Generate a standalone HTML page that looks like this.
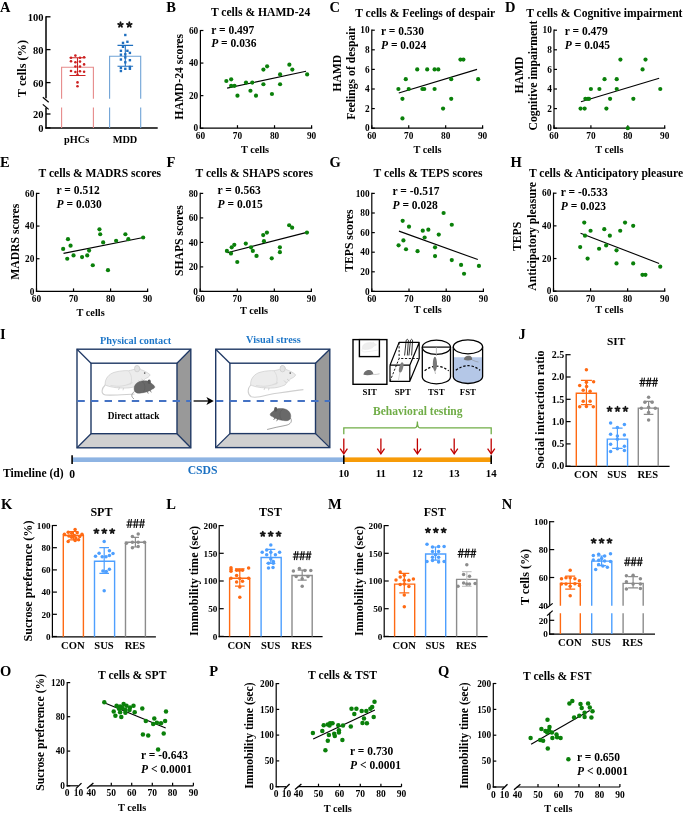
<!DOCTYPE html>
<html><head><meta charset="utf-8"><style>
html,body{margin:0;padding:0;background:#fff;width:685px;height:820px;overflow:hidden}
svg{display:block;font-family:"Liberation Serif", serif;will-change:transform}
</style></head><body>
<svg width="685" height="820" viewBox="0 0 685 820" font-family='"Liberation Serif", serif'>
<rect width="685" height="820" fill="#fff"/>
<text x="0.00" y="11.80" font-size="14.5" text-anchor="start" font-weight="bold" font-style="normal" fill="#000">A</text>
<text x="166.20" y="11.50" font-size="14.5" text-anchor="start" font-weight="bold" font-style="normal" fill="#000">B</text>
<text x="329.60" y="11.60" font-size="14.5" text-anchor="start" font-weight="bold" font-style="normal" fill="#000">C</text>
<text x="505.00" y="11.60" font-size="14.5" text-anchor="start" font-weight="bold" font-style="normal" fill="#000">D</text>
<text x="0.00" y="167.30" font-size="14.5" text-anchor="start" font-weight="bold" font-style="normal" fill="#000">E</text>
<text x="166.50" y="167.30" font-size="14.5" text-anchor="start" font-weight="bold" font-style="normal" fill="#000">F</text>
<text x="329.50" y="167.30" font-size="14.5" text-anchor="start" font-weight="bold" font-style="normal" fill="#000">G</text>
<text x="510.50" y="167.30" font-size="14.5" text-anchor="start" font-weight="bold" font-style="normal" fill="#000">H</text>
<text x="0.00" y="338.50" font-size="14.5" text-anchor="start" font-weight="bold" font-style="normal" fill="#000">I</text>
<text x="518.50" y="338.50" font-size="14.5" text-anchor="start" font-weight="bold" font-style="normal" fill="#000">J</text>
<text x="1.00" y="509.00" font-size="14.5" text-anchor="start" font-weight="bold" font-style="normal" fill="#000">K</text>
<text x="166.20" y="509.00" font-size="14.5" text-anchor="start" font-weight="bold" font-style="normal" fill="#000">L</text>
<text x="328.00" y="509.00" font-size="14.5" text-anchor="start" font-weight="bold" font-style="normal" fill="#000">M</text>
<text x="501.80" y="509.00" font-size="14.5" text-anchor="start" font-weight="bold" font-style="normal" fill="#000">N</text>
<text x="0.00" y="676.20" font-size="14.5" text-anchor="start" font-weight="bold" font-style="normal" fill="#000">O</text>
<text x="209.30" y="676.20" font-size="14.5" text-anchor="start" font-weight="bold" font-style="normal" fill="#000">P</text>
<text x="438.00" y="676.20" font-size="14.5" text-anchor="start" font-weight="bold" font-style="normal" fill="#000">Q</text>
<line x1="200.40" y1="29.90" x2="200.40" y2="128.80" stroke="#000" stroke-width="1.2"/>
<line x1="199.80" y1="128.20" x2="312.20" y2="128.20" stroke="#000" stroke-width="1.2"/>
<line x1="200.40" y1="128.20" x2="203.40" y2="128.20" stroke="#000" stroke-width="1.2"/>
<text x="198.20" y="131.40" font-size="9.3" text-anchor="end" font-weight="bold" font-style="normal" fill="#000">0</text>
<line x1="200.40" y1="95.63" x2="203.40" y2="95.63" stroke="#000" stroke-width="1.2"/>
<text x="198.20" y="98.83" font-size="9.3" text-anchor="end" font-weight="bold" font-style="normal" fill="#000">20</text>
<line x1="200.40" y1="63.07" x2="203.40" y2="63.07" stroke="#000" stroke-width="1.2"/>
<text x="198.20" y="66.27" font-size="9.3" text-anchor="end" font-weight="bold" font-style="normal" fill="#000">40</text>
<line x1="200.40" y1="30.50" x2="203.40" y2="30.50" stroke="#000" stroke-width="1.2"/>
<text x="198.20" y="33.70" font-size="9.3" text-anchor="end" font-weight="bold" font-style="normal" fill="#000">60</text>
<line x1="200.40" y1="128.20" x2="200.40" y2="125.20" stroke="#000" stroke-width="1.2"/>
<text x="200.40" y="138.80" font-size="9.3" text-anchor="middle" font-weight="bold" font-style="normal" fill="#000">60</text>
<line x1="237.47" y1="128.20" x2="237.47" y2="125.20" stroke="#000" stroke-width="1.2"/>
<text x="237.47" y="138.80" font-size="9.3" text-anchor="middle" font-weight="bold" font-style="normal" fill="#000">70</text>
<line x1="274.53" y1="128.20" x2="274.53" y2="125.20" stroke="#000" stroke-width="1.2"/>
<text x="274.53" y="138.80" font-size="9.3" text-anchor="middle" font-weight="bold" font-style="normal" fill="#000">80</text>
<line x1="311.60" y1="128.20" x2="311.60" y2="125.20" stroke="#000" stroke-width="1.2"/>
<text x="311.60" y="138.80" font-size="9.3" text-anchor="middle" font-weight="bold" font-style="normal" fill="#000">90</text>
<line x1="227.09" y1="88.14" x2="306.04" y2="71.21" stroke="#000" stroke-width="1.1"/>
<circle cx="226.35" cy="80.98" r="2.1" fill="#0a800a"/>
<circle cx="231.17" cy="79.35" r="2.1" fill="#0a800a"/>
<circle cx="231.17" cy="85.86" r="2.1" fill="#0a800a"/>
<circle cx="234.50" cy="85.86" r="2.1" fill="#0a800a"/>
<circle cx="237.47" cy="95.63" r="2.1" fill="#0a800a"/>
<circle cx="245.99" cy="82.61" r="2.1" fill="#0a800a"/>
<circle cx="250.44" cy="90.75" r="2.1" fill="#0a800a"/>
<circle cx="252.29" cy="82.61" r="2.1" fill="#0a800a"/>
<circle cx="256.00" cy="95.63" r="2.1" fill="#0a800a"/>
<circle cx="263.41" cy="69.58" r="2.1" fill="#0a800a"/>
<circle cx="263.41" cy="84.23" r="2.1" fill="#0a800a"/>
<circle cx="267.12" cy="66.32" r="2.1" fill="#0a800a"/>
<circle cx="271.94" cy="94.00" r="2.1" fill="#0a800a"/>
<circle cx="280.09" cy="74.47" r="2.1" fill="#0a800a"/>
<circle cx="280.09" cy="84.23" r="2.1" fill="#0a800a"/>
<circle cx="289.36" cy="64.69" r="2.1" fill="#0a800a"/>
<circle cx="292.33" cy="69.58" r="2.1" fill="#0a800a"/>
<circle cx="307.15" cy="74.47" r="2.1" fill="#0a800a"/>
<text x="210.90" y="16.30" font-size="11.6" text-anchor="start" font-weight="bold" font-style="normal" fill="#000">T cells &amp; HAMD-24</text>
<text x="255.00" y="152.90" font-size="10.3" text-anchor="middle" font-weight="bold" font-style="normal" fill="#000">T cells</text>
<text x="183.40" y="76.80" font-size="11.7" text-anchor="middle" font-weight="bold" font-style="normal" fill="#000" transform="rotate(-90 183.40 76.80)">HAMD-24 scores</text>
<text x="211.20" y="33.50" font-size="11.5" text-anchor="start" font-weight="bold" font-style="normal" fill="#000">r = 0.497</text>
<text x="211.20" y="47.40" font-size="11.5" text-anchor="start" font-weight="bold" fill="#000"><tspan font-style="italic">P</tspan> = 0.036</text>
<line x1="371.80" y1="29.60" x2="371.80" y2="128.80" stroke="#000" stroke-width="1.2"/>
<line x1="371.20" y1="128.20" x2="483.20" y2="128.20" stroke="#000" stroke-width="1.2"/>
<line x1="371.80" y1="128.20" x2="374.80" y2="128.20" stroke="#000" stroke-width="1.2"/>
<text x="369.60" y="131.40" font-size="9.3" text-anchor="end" font-weight="bold" font-style="normal" fill="#000">0</text>
<line x1="371.80" y1="108.60" x2="374.80" y2="108.60" stroke="#000" stroke-width="1.2"/>
<text x="369.60" y="111.80" font-size="9.3" text-anchor="end" font-weight="bold" font-style="normal" fill="#000">2</text>
<line x1="371.80" y1="89.00" x2="374.80" y2="89.00" stroke="#000" stroke-width="1.2"/>
<text x="369.60" y="92.20" font-size="9.3" text-anchor="end" font-weight="bold" font-style="normal" fill="#000">4</text>
<line x1="371.80" y1="69.40" x2="374.80" y2="69.40" stroke="#000" stroke-width="1.2"/>
<text x="369.60" y="72.60" font-size="9.3" text-anchor="end" font-weight="bold" font-style="normal" fill="#000">6</text>
<line x1="371.80" y1="49.80" x2="374.80" y2="49.80" stroke="#000" stroke-width="1.2"/>
<text x="369.60" y="53.00" font-size="9.3" text-anchor="end" font-weight="bold" font-style="normal" fill="#000">8</text>
<line x1="371.80" y1="30.20" x2="374.80" y2="30.20" stroke="#000" stroke-width="1.2"/>
<text x="369.60" y="33.40" font-size="9.3" text-anchor="end" font-weight="bold" font-style="normal" fill="#000">10</text>
<line x1="371.80" y1="128.20" x2="371.80" y2="125.20" stroke="#000" stroke-width="1.2"/>
<text x="371.80" y="138.80" font-size="9.3" text-anchor="middle" font-weight="bold" font-style="normal" fill="#000">60</text>
<line x1="408.73" y1="128.20" x2="408.73" y2="125.20" stroke="#000" stroke-width="1.2"/>
<text x="408.73" y="138.80" font-size="9.3" text-anchor="middle" font-weight="bold" font-style="normal" fill="#000">70</text>
<line x1="445.67" y1="128.20" x2="445.67" y2="125.20" stroke="#000" stroke-width="1.2"/>
<text x="445.67" y="138.80" font-size="9.3" text-anchor="middle" font-weight="bold" font-style="normal" fill="#000">80</text>
<line x1="482.60" y1="128.20" x2="482.60" y2="125.20" stroke="#000" stroke-width="1.2"/>
<text x="482.60" y="138.80" font-size="9.3" text-anchor="middle" font-weight="bold" font-style="normal" fill="#000">90</text>
<line x1="398.76" y1="92.92" x2="477.06" y2="69.40" stroke="#000" stroke-width="1.1"/>
<circle cx="398.39" cy="89.00" r="2.1" fill="#0a800a"/>
<circle cx="402.45" cy="98.80" r="2.1" fill="#0a800a"/>
<circle cx="402.45" cy="118.40" r="2.1" fill="#0a800a"/>
<circle cx="405.78" cy="79.20" r="2.1" fill="#0a800a"/>
<circle cx="408.73" cy="89.00" r="2.1" fill="#0a800a"/>
<circle cx="417.23" cy="69.40" r="2.1" fill="#0a800a"/>
<circle cx="422.40" cy="89.00" r="2.1" fill="#0a800a"/>
<circle cx="424.25" cy="89.00" r="2.1" fill="#0a800a"/>
<circle cx="427.20" cy="69.40" r="2.1" fill="#0a800a"/>
<circle cx="434.59" cy="69.40" r="2.1" fill="#0a800a"/>
<circle cx="434.59" cy="89.00" r="2.1" fill="#0a800a"/>
<circle cx="438.28" cy="69.40" r="2.1" fill="#0a800a"/>
<circle cx="443.08" cy="108.60" r="2.1" fill="#0a800a"/>
<circle cx="451.21" cy="79.20" r="2.1" fill="#0a800a"/>
<circle cx="451.21" cy="98.80" r="2.1" fill="#0a800a"/>
<circle cx="460.44" cy="59.60" r="2.1" fill="#0a800a"/>
<circle cx="463.39" cy="59.60" r="2.1" fill="#0a800a"/>
<circle cx="478.17" cy="79.20" r="2.1" fill="#0a800a"/>
<text x="355.20" y="16.50" font-size="11.6" text-anchor="start" font-weight="bold" font-style="normal" fill="#000">T cells &amp; Feelings of despair</text>
<text x="427.50" y="152.90" font-size="10.3" text-anchor="middle" font-weight="bold" font-style="normal" fill="#000">T cells</text>
<text x="354.50" y="73.00" font-size="11.7" text-anchor="middle" font-weight="bold" font-style="normal" fill="#000" transform="rotate(-90 354.50 73.00)">Feelings of despair</text>
<text x="341.00" y="73.20" font-size="11.7" text-anchor="middle" font-weight="bold" font-style="normal" fill="#000" transform="rotate(-90 341.00 73.20)">HAMD</text>
<text x="381.00" y="35.20" font-size="11.5" text-anchor="start" font-weight="bold" font-style="normal" fill="#000">r = 0.530</text>
<text x="381.00" y="49.10" font-size="11.5" text-anchor="start" font-weight="bold" fill="#000"><tspan font-style="italic">P</tspan> = 0.024</text>
<line x1="554.00" y1="29.60" x2="554.00" y2="128.80" stroke="#000" stroke-width="1.2"/>
<line x1="553.40" y1="128.20" x2="665.30" y2="128.20" stroke="#000" stroke-width="1.2"/>
<line x1="554.00" y1="128.20" x2="557.00" y2="128.20" stroke="#000" stroke-width="1.2"/>
<text x="551.80" y="131.40" font-size="9.3" text-anchor="end" font-weight="bold" font-style="normal" fill="#000">0</text>
<line x1="554.00" y1="108.60" x2="557.00" y2="108.60" stroke="#000" stroke-width="1.2"/>
<text x="551.80" y="111.80" font-size="9.3" text-anchor="end" font-weight="bold" font-style="normal" fill="#000">2</text>
<line x1="554.00" y1="89.00" x2="557.00" y2="89.00" stroke="#000" stroke-width="1.2"/>
<text x="551.80" y="92.20" font-size="9.3" text-anchor="end" font-weight="bold" font-style="normal" fill="#000">4</text>
<line x1="554.00" y1="69.40" x2="557.00" y2="69.40" stroke="#000" stroke-width="1.2"/>
<text x="551.80" y="72.60" font-size="9.3" text-anchor="end" font-weight="bold" font-style="normal" fill="#000">6</text>
<line x1="554.00" y1="49.80" x2="557.00" y2="49.80" stroke="#000" stroke-width="1.2"/>
<text x="551.80" y="53.00" font-size="9.3" text-anchor="end" font-weight="bold" font-style="normal" fill="#000">8</text>
<line x1="554.00" y1="30.20" x2="557.00" y2="30.20" stroke="#000" stroke-width="1.2"/>
<text x="551.80" y="33.40" font-size="9.3" text-anchor="end" font-weight="bold" font-style="normal" fill="#000">10</text>
<line x1="554.00" y1="128.20" x2="554.00" y2="125.20" stroke="#000" stroke-width="1.2"/>
<text x="554.00" y="138.80" font-size="9.3" text-anchor="middle" font-weight="bold" font-style="normal" fill="#000">60</text>
<line x1="590.90" y1="128.20" x2="590.90" y2="125.20" stroke="#000" stroke-width="1.2"/>
<text x="590.90" y="138.80" font-size="9.3" text-anchor="middle" font-weight="bold" font-style="normal" fill="#000">70</text>
<line x1="627.80" y1="128.20" x2="627.80" y2="125.20" stroke="#000" stroke-width="1.2"/>
<text x="627.80" y="138.80" font-size="9.3" text-anchor="middle" font-weight="bold" font-style="normal" fill="#000">80</text>
<line x1="664.70" y1="128.20" x2="664.70" y2="125.20" stroke="#000" stroke-width="1.2"/>
<text x="664.70" y="138.80" font-size="9.3" text-anchor="middle" font-weight="bold" font-style="normal" fill="#000">90</text>
<line x1="580.94" y1="101.74" x2="659.17" y2="78.22" stroke="#000" stroke-width="1.1"/>
<circle cx="580.57" cy="108.60" r="2.1" fill="#0a800a"/>
<circle cx="584.63" cy="108.60" r="2.1" fill="#0a800a"/>
<circle cx="585.37" cy="98.80" r="2.1" fill="#0a800a"/>
<circle cx="587.95" cy="98.80" r="2.1" fill="#0a800a"/>
<circle cx="589.06" cy="98.80" r="2.1" fill="#0a800a"/>
<circle cx="590.90" cy="89.00" r="2.1" fill="#0a800a"/>
<circle cx="599.39" cy="89.00" r="2.1" fill="#0a800a"/>
<circle cx="604.55" cy="79.20" r="2.1" fill="#0a800a"/>
<circle cx="606.40" cy="108.60" r="2.1" fill="#0a800a"/>
<circle cx="610.09" cy="98.80" r="2.1" fill="#0a800a"/>
<circle cx="616.73" cy="79.20" r="2.1" fill="#0a800a"/>
<circle cx="616.73" cy="89.00" r="2.1" fill="#0a800a"/>
<circle cx="620.42" cy="59.60" r="2.1" fill="#0a800a"/>
<circle cx="627.80" cy="128.20" r="2.1" fill="#0a800a"/>
<circle cx="633.34" cy="98.80" r="2.1" fill="#0a800a"/>
<circle cx="642.56" cy="69.40" r="2.1" fill="#0a800a"/>
<circle cx="645.51" cy="59.60" r="2.1" fill="#0a800a"/>
<circle cx="660.27" cy="89.00" r="2.1" fill="#0a800a"/>
<text x="526.20" y="16.50" font-size="11.6" text-anchor="start" font-weight="bold" font-style="normal" fill="#000">T cells &amp; Cognitive impairment</text>
<text x="609.40" y="152.90" font-size="10.3" text-anchor="middle" font-weight="bold" font-style="normal" fill="#000">T cells</text>
<text x="537.00" y="75.50" font-size="11.7" text-anchor="middle" font-weight="bold" font-style="normal" fill="#000" transform="rotate(-90 537.00 75.50)">Cognitive impairment</text>
<text x="523.00" y="75.00" font-size="11.7" text-anchor="middle" font-weight="bold" font-style="normal" fill="#000" transform="rotate(-90 523.00 75.00)">HAMD</text>
<text x="564.80" y="34.60" font-size="11.5" text-anchor="start" font-weight="bold" font-style="normal" fill="#000">r = 0.479</text>
<text x="564.80" y="48.50" font-size="11.5" text-anchor="start" font-weight="bold" fill="#000"><tspan font-style="italic">P</tspan> = 0.045</text>
<line x1="36.50" y1="192.80" x2="36.50" y2="292.00" stroke="#000" stroke-width="1.2"/>
<line x1="35.90" y1="291.40" x2="148.20" y2="291.40" stroke="#000" stroke-width="1.2"/>
<line x1="36.50" y1="291.40" x2="39.50" y2="291.40" stroke="#000" stroke-width="1.2"/>
<text x="34.30" y="294.60" font-size="9.3" text-anchor="end" font-weight="bold" font-style="normal" fill="#000">0</text>
<line x1="36.50" y1="258.73" x2="39.50" y2="258.73" stroke="#000" stroke-width="1.2"/>
<text x="34.30" y="261.93" font-size="9.3" text-anchor="end" font-weight="bold" font-style="normal" fill="#000">20</text>
<line x1="36.50" y1="226.07" x2="39.50" y2="226.07" stroke="#000" stroke-width="1.2"/>
<text x="34.30" y="229.27" font-size="9.3" text-anchor="end" font-weight="bold" font-style="normal" fill="#000">40</text>
<line x1="36.50" y1="193.40" x2="39.50" y2="193.40" stroke="#000" stroke-width="1.2"/>
<text x="34.30" y="196.60" font-size="9.3" text-anchor="end" font-weight="bold" font-style="normal" fill="#000">60</text>
<line x1="36.50" y1="291.40" x2="36.50" y2="288.40" stroke="#000" stroke-width="1.2"/>
<text x="36.50" y="302.00" font-size="9.3" text-anchor="middle" font-weight="bold" font-style="normal" fill="#000">60</text>
<line x1="73.53" y1="291.40" x2="73.53" y2="288.40" stroke="#000" stroke-width="1.2"/>
<text x="73.53" y="302.00" font-size="9.3" text-anchor="middle" font-weight="bold" font-style="normal" fill="#000">70</text>
<line x1="110.57" y1="291.40" x2="110.57" y2="288.40" stroke="#000" stroke-width="1.2"/>
<text x="110.57" y="302.00" font-size="9.3" text-anchor="middle" font-weight="bold" font-style="normal" fill="#000">80</text>
<line x1="147.60" y1="291.40" x2="147.60" y2="288.40" stroke="#000" stroke-width="1.2"/>
<text x="147.60" y="302.00" font-size="9.3" text-anchor="middle" font-weight="bold" font-style="normal" fill="#000">90</text>
<line x1="63.53" y1="253.34" x2="142.05" y2="237.83" stroke="#000" stroke-width="1.1"/>
<circle cx="63.16" cy="248.93" r="2.1" fill="#0a800a"/>
<circle cx="67.24" cy="258.73" r="2.1" fill="#0a800a"/>
<circle cx="67.98" cy="239.13" r="2.1" fill="#0a800a"/>
<circle cx="70.57" cy="245.67" r="2.1" fill="#0a800a"/>
<circle cx="73.53" cy="255.47" r="2.1" fill="#0a800a"/>
<circle cx="82.05" cy="257.10" r="2.1" fill="#0a800a"/>
<circle cx="87.24" cy="255.47" r="2.1" fill="#0a800a"/>
<circle cx="89.09" cy="250.57" r="2.1" fill="#0a800a"/>
<circle cx="92.79" cy="265.27" r="2.1" fill="#0a800a"/>
<circle cx="99.46" cy="229.33" r="2.1" fill="#0a800a"/>
<circle cx="100.20" cy="234.23" r="2.1" fill="#0a800a"/>
<circle cx="103.16" cy="242.40" r="2.1" fill="#0a800a"/>
<circle cx="107.97" cy="270.17" r="2.1" fill="#0a800a"/>
<circle cx="116.12" cy="240.77" r="2.1" fill="#0a800a"/>
<circle cx="125.38" cy="234.23" r="2.1" fill="#0a800a"/>
<circle cx="128.34" cy="239.13" r="2.1" fill="#0a800a"/>
<circle cx="143.16" cy="237.50" r="2.1" fill="#0a800a"/>
<text x="38.50" y="176.70" font-size="11.6" text-anchor="start" font-weight="bold" font-style="normal" fill="#000">T cells &amp; MADRS scores</text>
<text x="90.60" y="316.10" font-size="10.3" text-anchor="middle" font-weight="bold" font-style="normal" fill="#000">T cells</text>
<text x="19.50" y="241.80" font-size="11.7" text-anchor="middle" font-weight="bold" font-style="normal" fill="#000" transform="rotate(-90 19.50 241.80)">MADRS scores</text>
<text x="56.60" y="194.00" font-size="11.5" text-anchor="start" font-weight="bold" font-style="normal" fill="#000">r = 0.512</text>
<text x="56.60" y="207.90" font-size="11.5" text-anchor="start" font-weight="bold" fill="#000"><tspan font-style="italic">P</tspan> = 0.030</text>
<line x1="200.20" y1="192.80" x2="200.20" y2="292.00" stroke="#000" stroke-width="1.2"/>
<line x1="199.60" y1="291.40" x2="312.00" y2="291.40" stroke="#000" stroke-width="1.2"/>
<line x1="200.20" y1="291.40" x2="203.20" y2="291.40" stroke="#000" stroke-width="1.2"/>
<text x="198.00" y="294.60" font-size="9.3" text-anchor="end" font-weight="bold" font-style="normal" fill="#000">0</text>
<line x1="200.20" y1="266.90" x2="203.20" y2="266.90" stroke="#000" stroke-width="1.2"/>
<text x="198.00" y="270.10" font-size="9.3" text-anchor="end" font-weight="bold" font-style="normal" fill="#000">20</text>
<line x1="200.20" y1="242.40" x2="203.20" y2="242.40" stroke="#000" stroke-width="1.2"/>
<text x="198.00" y="245.60" font-size="9.3" text-anchor="end" font-weight="bold" font-style="normal" fill="#000">40</text>
<line x1="200.20" y1="217.90" x2="203.20" y2="217.90" stroke="#000" stroke-width="1.2"/>
<text x="198.00" y="221.10" font-size="9.3" text-anchor="end" font-weight="bold" font-style="normal" fill="#000">60</text>
<line x1="200.20" y1="193.40" x2="203.20" y2="193.40" stroke="#000" stroke-width="1.2"/>
<text x="198.00" y="196.60" font-size="9.3" text-anchor="end" font-weight="bold" font-style="normal" fill="#000">80</text>
<line x1="200.20" y1="291.40" x2="200.20" y2="288.40" stroke="#000" stroke-width="1.2"/>
<text x="200.20" y="302.00" font-size="9.3" text-anchor="middle" font-weight="bold" font-style="normal" fill="#000">60</text>
<line x1="237.27" y1="291.40" x2="237.27" y2="288.40" stroke="#000" stroke-width="1.2"/>
<text x="237.27" y="302.00" font-size="9.3" text-anchor="middle" font-weight="bold" font-style="normal" fill="#000">70</text>
<line x1="274.33" y1="291.40" x2="274.33" y2="288.40" stroke="#000" stroke-width="1.2"/>
<text x="274.33" y="302.00" font-size="9.3" text-anchor="middle" font-weight="bold" font-style="normal" fill="#000">80</text>
<line x1="311.40" y1="291.40" x2="311.40" y2="288.40" stroke="#000" stroke-width="1.2"/>
<text x="311.40" y="302.00" font-size="9.3" text-anchor="middle" font-weight="bold" font-style="normal" fill="#000">90</text>
<line x1="227.26" y1="252.81" x2="305.84" y2="232.60" stroke="#000" stroke-width="1.1"/>
<circle cx="226.89" cy="250.97" r="2.1" fill="#0a800a"/>
<circle cx="230.97" cy="253.42" r="2.1" fill="#0a800a"/>
<circle cx="231.71" cy="247.30" r="2.1" fill="#0a800a"/>
<circle cx="234.30" cy="244.85" r="2.1" fill="#0a800a"/>
<circle cx="237.27" cy="262.00" r="2.1" fill="#0a800a"/>
<circle cx="245.79" cy="243.62" r="2.1" fill="#0a800a"/>
<circle cx="250.98" cy="247.30" r="2.1" fill="#0a800a"/>
<circle cx="252.83" cy="250.97" r="2.1" fill="#0a800a"/>
<circle cx="256.54" cy="255.88" r="2.1" fill="#0a800a"/>
<circle cx="263.21" cy="235.05" r="2.1" fill="#0a800a"/>
<circle cx="263.95" cy="241.18" r="2.1" fill="#0a800a"/>
<circle cx="266.92" cy="232.60" r="2.1" fill="#0a800a"/>
<circle cx="271.74" cy="258.32" r="2.1" fill="#0a800a"/>
<circle cx="279.89" cy="247.30" r="2.1" fill="#0a800a"/>
<circle cx="279.89" cy="252.20" r="2.1" fill="#0a800a"/>
<circle cx="289.16" cy="225.25" r="2.1" fill="#0a800a"/>
<circle cx="292.13" cy="227.70" r="2.1" fill="#0a800a"/>
<circle cx="306.95" cy="232.60" r="2.1" fill="#0a800a"/>
<text x="195.50" y="176.70" font-size="11.6" text-anchor="start" font-weight="bold" font-style="normal" fill="#000">T cells &amp; SHAPS scores</text>
<text x="254.00" y="313.60" font-size="10.3" text-anchor="middle" font-weight="bold" font-style="normal" fill="#000">T cells</text>
<text x="183.00" y="240.60" font-size="11.7" text-anchor="middle" font-weight="bold" font-style="normal" fill="#000" transform="rotate(-90 183.00 240.60)">SHAPS scores</text>
<text x="217.60" y="194.20" font-size="11.5" text-anchor="start" font-weight="bold" font-style="normal" fill="#000">r = 0.563</text>
<text x="217.60" y="208.10" font-size="11.5" text-anchor="start" font-weight="bold" fill="#000"><tspan font-style="italic">P</tspan> = 0.015</text>
<line x1="371.80" y1="192.80" x2="371.80" y2="292.00" stroke="#000" stroke-width="1.2"/>
<line x1="371.20" y1="291.40" x2="484.00" y2="291.40" stroke="#000" stroke-width="1.2"/>
<line x1="371.80" y1="291.40" x2="374.80" y2="291.40" stroke="#000" stroke-width="1.2"/>
<text x="369.60" y="294.60" font-size="9.3" text-anchor="end" font-weight="bold" font-style="normal" fill="#000">0</text>
<line x1="371.80" y1="271.80" x2="374.80" y2="271.80" stroke="#000" stroke-width="1.2"/>
<text x="369.60" y="275.00" font-size="9.3" text-anchor="end" font-weight="bold" font-style="normal" fill="#000">20</text>
<line x1="371.80" y1="252.20" x2="374.80" y2="252.20" stroke="#000" stroke-width="1.2"/>
<text x="369.60" y="255.40" font-size="9.3" text-anchor="end" font-weight="bold" font-style="normal" fill="#000">40</text>
<line x1="371.80" y1="232.60" x2="374.80" y2="232.60" stroke="#000" stroke-width="1.2"/>
<text x="369.60" y="235.80" font-size="9.3" text-anchor="end" font-weight="bold" font-style="normal" fill="#000">60</text>
<line x1="371.80" y1="213.00" x2="374.80" y2="213.00" stroke="#000" stroke-width="1.2"/>
<text x="369.60" y="216.20" font-size="9.3" text-anchor="end" font-weight="bold" font-style="normal" fill="#000">80</text>
<line x1="371.80" y1="193.40" x2="374.80" y2="193.40" stroke="#000" stroke-width="1.2"/>
<text x="369.60" y="196.60" font-size="9.3" text-anchor="end" font-weight="bold" font-style="normal" fill="#000">100</text>
<line x1="371.80" y1="291.40" x2="371.80" y2="288.40" stroke="#000" stroke-width="1.2"/>
<text x="371.80" y="302.00" font-size="9.3" text-anchor="middle" font-weight="bold" font-style="normal" fill="#000">60</text>
<line x1="409.00" y1="291.40" x2="409.00" y2="288.40" stroke="#000" stroke-width="1.2"/>
<text x="409.00" y="302.00" font-size="9.3" text-anchor="middle" font-weight="bold" font-style="normal" fill="#000">70</text>
<line x1="446.20" y1="291.40" x2="446.20" y2="288.40" stroke="#000" stroke-width="1.2"/>
<text x="446.20" y="302.00" font-size="9.3" text-anchor="middle" font-weight="bold" font-style="normal" fill="#000">80</text>
<line x1="483.40" y1="291.40" x2="483.40" y2="288.40" stroke="#000" stroke-width="1.2"/>
<text x="483.40" y="302.00" font-size="9.3" text-anchor="middle" font-weight="bold" font-style="normal" fill="#000">90</text>
<line x1="398.96" y1="231.13" x2="477.82" y2="259.55" stroke="#000" stroke-width="1.1"/>
<circle cx="398.58" cy="245.34" r="2.1" fill="#0a800a"/>
<circle cx="402.68" cy="220.84" r="2.1" fill="#0a800a"/>
<circle cx="403.42" cy="240.44" r="2.1" fill="#0a800a"/>
<circle cx="406.02" cy="249.26" r="2.1" fill="#0a800a"/>
<circle cx="409.00" cy="226.72" r="2.1" fill="#0a800a"/>
<circle cx="417.56" cy="251.22" r="2.1" fill="#0a800a"/>
<circle cx="422.76" cy="230.64" r="2.1" fill="#0a800a"/>
<circle cx="424.62" cy="237.50" r="2.1" fill="#0a800a"/>
<circle cx="428.34" cy="229.66" r="2.1" fill="#0a800a"/>
<circle cx="435.04" cy="247.30" r="2.1" fill="#0a800a"/>
<circle cx="435.04" cy="256.12" r="2.1" fill="#0a800a"/>
<circle cx="438.76" cy="234.56" r="2.1" fill="#0a800a"/>
<circle cx="443.60" cy="213.00" r="2.1" fill="#0a800a"/>
<circle cx="451.78" cy="224.76" r="2.1" fill="#0a800a"/>
<circle cx="451.78" cy="260.04" r="2.1" fill="#0a800a"/>
<circle cx="461.08" cy="264.94" r="2.1" fill="#0a800a"/>
<circle cx="464.06" cy="273.76" r="2.1" fill="#0a800a"/>
<circle cx="478.94" cy="265.92" r="2.1" fill="#0a800a"/>
<text x="373.60" y="177.00" font-size="11.6" text-anchor="start" font-weight="bold" font-style="normal" fill="#000">T cells &amp; TEPS scores</text>
<text x="427.80" y="313.40" font-size="10.3" text-anchor="middle" font-weight="bold" font-style="normal" fill="#000">T cells</text>
<text x="353.00" y="240.60" font-size="11.7" text-anchor="middle" font-weight="bold" font-style="normal" fill="#000" transform="rotate(-90 353.00 240.60)">TEPS scores</text>
<text x="392.50" y="194.90" font-size="11.5" text-anchor="start" font-weight="bold" font-style="normal" fill="#000">r = -0.517</text>
<text x="392.50" y="208.80" font-size="11.5" text-anchor="start" font-weight="bold" fill="#000"><tspan font-style="italic">P</tspan> = 0.028</text>
<line x1="553.50" y1="192.60" x2="553.50" y2="291.80" stroke="#000" stroke-width="1.2"/>
<line x1="552.90" y1="291.20" x2="665.30" y2="291.20" stroke="#000" stroke-width="1.2"/>
<line x1="553.50" y1="291.20" x2="556.50" y2="291.20" stroke="#000" stroke-width="1.2"/>
<text x="551.30" y="294.40" font-size="9.3" text-anchor="end" font-weight="bold" font-style="normal" fill="#000">0</text>
<line x1="553.50" y1="258.53" x2="556.50" y2="258.53" stroke="#000" stroke-width="1.2"/>
<text x="551.30" y="261.73" font-size="9.3" text-anchor="end" font-weight="bold" font-style="normal" fill="#000">20</text>
<line x1="553.50" y1="225.87" x2="556.50" y2="225.87" stroke="#000" stroke-width="1.2"/>
<text x="551.30" y="229.07" font-size="9.3" text-anchor="end" font-weight="bold" font-style="normal" fill="#000">40</text>
<line x1="553.50" y1="193.20" x2="556.50" y2="193.20" stroke="#000" stroke-width="1.2"/>
<text x="551.30" y="196.40" font-size="9.3" text-anchor="end" font-weight="bold" font-style="normal" fill="#000">60</text>
<line x1="553.50" y1="291.20" x2="553.50" y2="288.20" stroke="#000" stroke-width="1.2"/>
<text x="553.50" y="301.80" font-size="9.3" text-anchor="middle" font-weight="bold" font-style="normal" fill="#000">60</text>
<line x1="590.57" y1="291.20" x2="590.57" y2="288.20" stroke="#000" stroke-width="1.2"/>
<text x="590.57" y="301.80" font-size="9.3" text-anchor="middle" font-weight="bold" font-style="normal" fill="#000">70</text>
<line x1="627.63" y1="291.20" x2="627.63" y2="288.20" stroke="#000" stroke-width="1.2"/>
<text x="627.63" y="301.80" font-size="9.3" text-anchor="middle" font-weight="bold" font-style="normal" fill="#000">80</text>
<line x1="664.70" y1="291.20" x2="664.70" y2="288.20" stroke="#000" stroke-width="1.2"/>
<text x="664.70" y="301.80" font-size="9.3" text-anchor="middle" font-weight="bold" font-style="normal" fill="#000">90</text>
<line x1="580.56" y1="233.22" x2="659.14" y2="263.43" stroke="#000" stroke-width="1.1"/>
<circle cx="580.19" cy="247.10" r="2.1" fill="#0a800a"/>
<circle cx="584.27" cy="222.60" r="2.1" fill="#0a800a"/>
<circle cx="585.01" cy="235.67" r="2.1" fill="#0a800a"/>
<circle cx="587.60" cy="258.53" r="2.1" fill="#0a800a"/>
<circle cx="590.57" cy="230.77" r="2.1" fill="#0a800a"/>
<circle cx="599.09" cy="248.73" r="2.1" fill="#0a800a"/>
<circle cx="604.28" cy="229.13" r="2.1" fill="#0a800a"/>
<circle cx="606.13" cy="245.47" r="2.1" fill="#0a800a"/>
<circle cx="609.84" cy="235.67" r="2.1" fill="#0a800a"/>
<circle cx="616.51" cy="250.37" r="2.1" fill="#0a800a"/>
<circle cx="616.51" cy="263.43" r="2.1" fill="#0a800a"/>
<circle cx="620.22" cy="230.77" r="2.1" fill="#0a800a"/>
<circle cx="625.04" cy="222.60" r="2.1" fill="#0a800a"/>
<circle cx="633.19" cy="225.87" r="2.1" fill="#0a800a"/>
<circle cx="633.19" cy="263.43" r="2.1" fill="#0a800a"/>
<circle cx="642.46" cy="274.87" r="2.1" fill="#0a800a"/>
<circle cx="645.43" cy="274.87" r="2.1" fill="#0a800a"/>
<circle cx="660.25" cy="266.70" r="2.1" fill="#0a800a"/>
<text x="528.90" y="177.00" font-size="11.6" text-anchor="start" font-weight="bold" font-style="normal" fill="#000">T cells &amp; Anticipatory pleasure</text>
<text x="609.40" y="313.40" font-size="10.3" text-anchor="middle" font-weight="bold" font-style="normal" fill="#000">T cells</text>
<text x="536.00" y="236.40" font-size="11.7" text-anchor="middle" font-weight="bold" font-style="normal" fill="#000" transform="rotate(-90 536.00 236.40)">Anticipatory pleasure</text>
<text x="521.50" y="236.40" font-size="11.7" text-anchor="middle" font-weight="bold" font-style="normal" fill="#000" transform="rotate(-90 521.50 236.40)">TEPS</text>
<text x="560.80" y="196.20" font-size="11.5" text-anchor="start" font-weight="bold" font-style="normal" fill="#000">r = -0.533</text>
<text x="560.80" y="210.10" font-size="11.5" text-anchor="start" font-weight="bold" fill="#000"><tspan font-style="italic">P</tspan> = 0.023</text>
<line x1="46.00" y1="16.20" x2="46.00" y2="98.30" stroke="#000" stroke-width="1.5"/>
<line x1="46.00" y1="107.60" x2="46.00" y2="128.50" stroke="#000" stroke-width="1.5"/>
<line x1="45.30" y1="127.90" x2="157.70" y2="127.90" stroke="#000" stroke-width="1.5"/>
<line x1="42.80" y1="97.30" x2="48.70" y2="102.20" stroke="#000" stroke-width="1.2"/>
<line x1="42.80" y1="104.40" x2="48.70" y2="109.40" stroke="#000" stroke-width="1.2"/>
<line x1="46.00" y1="16.80" x2="50.50" y2="16.80" stroke="#000" stroke-width="1.3"/>
<text x="43.60" y="20.80" font-size="10.5" text-anchor="end" font-weight="bold" font-style="normal" fill="#000">100</text>
<line x1="46.00" y1="49.60" x2="50.50" y2="49.60" stroke="#000" stroke-width="1.3"/>
<text x="43.60" y="53.60" font-size="10.5" text-anchor="end" font-weight="bold" font-style="normal" fill="#000">80</text>
<line x1="46.00" y1="82.60" x2="50.50" y2="82.60" stroke="#000" stroke-width="1.3"/>
<text x="43.60" y="86.60" font-size="10.5" text-anchor="end" font-weight="bold" font-style="normal" fill="#000">60</text>
<line x1="46.00" y1="114.00" x2="50.50" y2="114.00" stroke="#000" stroke-width="1.3"/>
<text x="43.60" y="118.00" font-size="10.5" text-anchor="end" font-weight="bold" font-style="normal" fill="#000">20</text>
<line x1="46.00" y1="127.90" x2="50.50" y2="127.90" stroke="#000" stroke-width="1.3"/>
<text x="43.60" y="131.90" font-size="10.5" text-anchor="end" font-weight="bold" font-style="normal" fill="#000">0</text>
<path d="M61.60 98.70 V67.20 H93.40 V98.70 M61.60 107.40 V127.90 M93.40 107.40 V127.90" fill="none" stroke="#e68a8a" stroke-width="1.1"/>
<path d="M109.60 98.70 V56.30 H140.70 V98.70 M109.60 107.40 V127.90 M140.70 107.40 V127.90" fill="none" stroke="#6fa3d6" stroke-width="1.1"/>
<path d="M77.50 57.70 V75.50 M69.50 57.70 H85.50 M69.50 75.50 H85.50" fill="none" stroke="#cc2222" stroke-width="1.1"/>
<path d="M125.30 45.40 V66.20 M117.50 45.40 H133.10 M117.50 66.20 H133.10" fill="none" stroke="#1f6fbf" stroke-width="1.1"/>
<circle cx="75.40" cy="55.60" r="1.3" fill="#cc2222"/>
<circle cx="71.00" cy="57.70" r="1.3" fill="#cc2222"/>
<circle cx="80.00" cy="57.70" r="1.3" fill="#cc2222"/>
<circle cx="84.10" cy="57.20" r="1.3" fill="#cc2222"/>
<circle cx="71.00" cy="61.30" r="1.3" fill="#cc2222"/>
<circle cx="75.40" cy="62.30" r="1.3" fill="#cc2222"/>
<circle cx="80.00" cy="61.60" r="1.3" fill="#cc2222"/>
<circle cx="84.10" cy="64.40" r="1.3" fill="#cc2222"/>
<circle cx="75.40" cy="66.50" r="1.3" fill="#cc2222"/>
<circle cx="80.00" cy="66.50" r="1.3" fill="#cc2222"/>
<circle cx="71.00" cy="71.00" r="1.3" fill="#cc2222"/>
<circle cx="75.40" cy="72.00" r="1.3" fill="#cc2222"/>
<circle cx="80.00" cy="71.30" r="1.3" fill="#cc2222"/>
<circle cx="84.10" cy="71.70" r="1.3" fill="#cc2222"/>
<circle cx="77.50" cy="74.80" r="1.3" fill="#cc2222"/>
<circle cx="77.50" cy="82.40" r="1.3" fill="#cc2222"/>
<circle cx="77.50" cy="86.20" r="1.3" fill="#cc2222"/>
<rect x="124.10" y="33.80" width="2.40" height="2.40" fill="#1f6fbf" stroke="none" stroke-width="1"/>
<rect x="121.80" y="41.70" width="2.40" height="2.40" fill="#1f6fbf" stroke="none" stroke-width="1"/>
<rect x="126.20" y="40.60" width="2.40" height="2.40" fill="#1f6fbf" stroke="none" stroke-width="1"/>
<rect x="121.80" y="45.60" width="2.40" height="2.40" fill="#1f6fbf" stroke="none" stroke-width="1"/>
<rect x="119.70" y="49.60" width="2.40" height="2.40" fill="#1f6fbf" stroke="none" stroke-width="1"/>
<rect x="126.20" y="49.60" width="2.40" height="2.40" fill="#1f6fbf" stroke="none" stroke-width="1"/>
<rect x="128.70" y="51.70" width="2.40" height="2.40" fill="#1f6fbf" stroke="none" stroke-width="1"/>
<rect x="119.70" y="53.50" width="2.40" height="2.40" fill="#1f6fbf" stroke="none" stroke-width="1"/>
<rect x="124.10" y="53.10" width="2.40" height="2.40" fill="#1f6fbf" stroke="none" stroke-width="1"/>
<rect x="124.10" y="56.20" width="2.40" height="2.40" fill="#1f6fbf" stroke="none" stroke-width="1"/>
<rect x="119.70" y="58.30" width="2.40" height="2.40" fill="#1f6fbf" stroke="none" stroke-width="1"/>
<rect x="128.70" y="59.00" width="2.40" height="2.40" fill="#1f6fbf" stroke="none" stroke-width="1"/>
<rect x="124.10" y="61.10" width="2.40" height="2.40" fill="#1f6fbf" stroke="none" stroke-width="1"/>
<rect x="119.70" y="66.70" width="2.40" height="2.40" fill="#1f6fbf" stroke="none" stroke-width="1"/>
<rect x="124.10" y="67.60" width="2.40" height="2.40" fill="#1f6fbf" stroke="none" stroke-width="1"/>
<rect x="128.70" y="67.60" width="2.40" height="2.40" fill="#1f6fbf" stroke="none" stroke-width="1"/>
<rect x="128.70" y="65.70" width="2.40" height="2.40" fill="#1f6fbf" stroke="none" stroke-width="1"/>
<rect x="119.70" y="69.80" width="2.40" height="2.40" fill="#1f6fbf" stroke="none" stroke-width="1"/>
<ellipse cx="120.50" cy="22.93" rx="1.02" ry="1.70" fill="#111" transform="rotate(0 120.50 24.70)"/>
<ellipse cx="120.50" cy="22.93" rx="1.02" ry="1.70" fill="#111" transform="rotate(72 120.50 24.70)"/>
<ellipse cx="120.50" cy="22.93" rx="1.02" ry="1.70" fill="#111" transform="rotate(144 120.50 24.70)"/>
<ellipse cx="120.50" cy="22.93" rx="1.02" ry="1.70" fill="#111" transform="rotate(216 120.50 24.70)"/>
<ellipse cx="120.50" cy="22.93" rx="1.02" ry="1.70" fill="#111" transform="rotate(288 120.50 24.70)"/>
<ellipse cx="129.30" cy="22.93" rx="1.02" ry="1.70" fill="#111" transform="rotate(0 129.30 24.70)"/>
<ellipse cx="129.30" cy="22.93" rx="1.02" ry="1.70" fill="#111" transform="rotate(72 129.30 24.70)"/>
<ellipse cx="129.30" cy="22.93" rx="1.02" ry="1.70" fill="#111" transform="rotate(144 129.30 24.70)"/>
<ellipse cx="129.30" cy="22.93" rx="1.02" ry="1.70" fill="#111" transform="rotate(216 129.30 24.70)"/>
<ellipse cx="129.30" cy="22.93" rx="1.02" ry="1.70" fill="#111" transform="rotate(288 129.30 24.70)"/>
<text x="76.60" y="143.00" font-size="10.3" text-anchor="middle" font-weight="bold" font-style="normal" fill="#000">pHCs</text>
<text x="125.00" y="143.00" font-size="10.3" text-anchor="middle" font-weight="bold" font-style="normal" fill="#000">MDD</text>
<text x="25.80" y="68.60" font-size="12.3" text-anchor="middle" font-weight="bold" font-style="normal" fill="#000" transform="rotate(-90 25.80 68.60)">T cells (%)</text>
<line x1="566.10" y1="354.10" x2="566.10" y2="466.90" stroke="#000" stroke-width="1.2"/>
<line x1="565.50" y1="466.30" x2="669.60" y2="466.30" stroke="#000" stroke-width="1.2"/>
<line x1="566.10" y1="354.70" x2="570.60" y2="354.70" stroke="#000" stroke-width="1.2"/>
<text x="564.30" y="357.90" font-size="10" text-anchor="end" font-weight="bold" font-style="normal" fill="#000">2.5</text>
<line x1="566.10" y1="377.00" x2="570.60" y2="377.00" stroke="#000" stroke-width="1.2"/>
<text x="564.30" y="380.20" font-size="10" text-anchor="end" font-weight="bold" font-style="normal" fill="#000">2.0</text>
<line x1="566.10" y1="399.30" x2="570.60" y2="399.30" stroke="#000" stroke-width="1.2"/>
<text x="564.30" y="402.50" font-size="10" text-anchor="end" font-weight="bold" font-style="normal" fill="#000">1.5</text>
<line x1="566.10" y1="421.60" x2="570.60" y2="421.60" stroke="#000" stroke-width="1.2"/>
<text x="564.30" y="424.80" font-size="10" text-anchor="end" font-weight="bold" font-style="normal" fill="#000">1.0</text>
<line x1="566.10" y1="443.90" x2="570.60" y2="443.90" stroke="#000" stroke-width="1.2"/>
<text x="564.30" y="447.10" font-size="10" text-anchor="end" font-weight="bold" font-style="normal" fill="#000">0.5</text>
<line x1="566.10" y1="466.20" x2="570.60" y2="466.20" stroke="#000" stroke-width="1.2"/>
<text x="564.30" y="469.40" font-size="10" text-anchor="end" font-weight="bold" font-style="normal" fill="#000">0.0</text>
<path d="M576.30 466.30 V393.30 H596.40 V466.30" fill="none" stroke="#ff6a13" stroke-width="1.4"/>
<path d="M586.40 380.40 V404.70 M580.90 380.40 H591.90 M580.90 404.70 H591.90" fill="none" stroke="#ff6a13" stroke-width="1.2"/>
<circle cx="586.40" cy="369.70" r="1.75" fill="#ff6a13"/>
<circle cx="586.40" cy="382.20" r="1.75" fill="#ff6a13"/>
<circle cx="593.60" cy="381.80" r="1.75" fill="#ff6a13"/>
<circle cx="579.70" cy="385.40" r="1.75" fill="#ff6a13"/>
<circle cx="586.60" cy="386.40" r="1.75" fill="#ff6a13"/>
<circle cx="583.20" cy="390.20" r="1.75" fill="#ff6a13"/>
<circle cx="590.10" cy="391.20" r="1.75" fill="#ff6a13"/>
<circle cx="583.20" cy="401.30" r="1.75" fill="#ff6a13"/>
<circle cx="590.10" cy="401.30" r="1.75" fill="#ff6a13"/>
<circle cx="579.70" cy="406.70" r="1.75" fill="#ff6a13"/>
<circle cx="586.40" cy="406.50" r="1.75" fill="#ff6a13"/>
<circle cx="593.30" cy="406.70" r="1.75" fill="#ff6a13"/>
<text x="585.85" y="478.40" font-size="10.6" text-anchor="middle" font-weight="bold" font-style="normal" fill="#000">CON</text>
<path d="M607.30 466.30 V439.10 H627.60 V466.30" fill="none" stroke="#4d9fff" stroke-width="1.4"/>
<path d="M617.40 428.20 V448.30 M612.20 428.20 H622.60 M612.20 448.30 H622.60" fill="none" stroke="#4d9fff" stroke-width="1.2"/>
<circle cx="610.60" cy="423.10" r="1.75" fill="#4d9fff"/>
<circle cx="624.40" cy="424.50" r="1.75" fill="#4d9fff"/>
<circle cx="617.40" cy="427.50" r="1.75" fill="#4d9fff"/>
<circle cx="610.60" cy="434.20" r="1.75" fill="#4d9fff"/>
<circle cx="624.40" cy="434.90" r="1.75" fill="#4d9fff"/>
<circle cx="617.40" cy="436.00" r="1.75" fill="#4d9fff"/>
<circle cx="617.40" cy="439.30" r="1.75" fill="#4d9fff"/>
<circle cx="610.60" cy="444.30" r="1.75" fill="#4d9fff"/>
<circle cx="624.40" cy="446.30" r="1.75" fill="#4d9fff"/>
<circle cx="617.40" cy="448.80" r="1.75" fill="#4d9fff"/>
<circle cx="610.60" cy="451.50" r="1.75" fill="#4d9fff"/>
<circle cx="624.40" cy="450.40" r="1.75" fill="#4d9fff"/>
<text x="616.95" y="478.40" font-size="10.6" text-anchor="middle" font-weight="bold" font-style="normal" fill="#000">SUS</text>
<path d="M638.30 466.30 V408.10 H658.20 V466.30" fill="none" stroke="#8c8c8c" stroke-width="1.4"/>
<path d="M648.60 401.30 V414.40 M643.80 401.30 H653.40 M643.80 414.40 H653.40" fill="none" stroke="#8c8c8c" stroke-width="1.2"/>
<circle cx="648.60" cy="397.20" r="1.75" fill="#8c8c8c"/>
<circle cx="644.90" cy="402.30" r="1.75" fill="#8c8c8c"/>
<circle cx="652.10" cy="402.30" r="1.75" fill="#8c8c8c"/>
<circle cx="641.40" cy="408.30" r="1.75" fill="#8c8c8c"/>
<circle cx="648.60" cy="407.20" r="1.75" fill="#8c8c8c"/>
<circle cx="655.30" cy="408.30" r="1.75" fill="#8c8c8c"/>
<circle cx="648.60" cy="412.40" r="1.75" fill="#8c8c8c"/>
<circle cx="648.60" cy="419.90" r="1.75" fill="#8c8c8c"/>
<text x="647.75" y="478.40" font-size="10.6" text-anchor="middle" font-weight="bold" font-style="normal" fill="#000">RES</text>
<text x="616.10" y="344.70" font-size="11.4" text-anchor="middle" font-weight="bold" font-style="normal" fill="#000">SIT</text>
<text x="543.50" y="409.50" font-size="12.1" text-anchor="middle" font-weight="bold" font-style="normal" fill="#000" transform="rotate(-90 543.50 409.50)">Social interaction ratio</text>
<ellipse cx="609.60" cy="407.44" rx="0.96" ry="1.60" fill="#111" transform="rotate(0 609.60 409.10)"/>
<ellipse cx="609.60" cy="407.44" rx="0.96" ry="1.60" fill="#111" transform="rotate(72 609.60 409.10)"/>
<ellipse cx="609.60" cy="407.44" rx="0.96" ry="1.60" fill="#111" transform="rotate(144 609.60 409.10)"/>
<ellipse cx="609.60" cy="407.44" rx="0.96" ry="1.60" fill="#111" transform="rotate(216 609.60 409.10)"/>
<ellipse cx="609.60" cy="407.44" rx="0.96" ry="1.60" fill="#111" transform="rotate(288 609.60 409.10)"/>
<ellipse cx="617.50" cy="407.44" rx="0.96" ry="1.60" fill="#111" transform="rotate(0 617.50 409.10)"/>
<ellipse cx="617.50" cy="407.44" rx="0.96" ry="1.60" fill="#111" transform="rotate(72 617.50 409.10)"/>
<ellipse cx="617.50" cy="407.44" rx="0.96" ry="1.60" fill="#111" transform="rotate(144 617.50 409.10)"/>
<ellipse cx="617.50" cy="407.44" rx="0.96" ry="1.60" fill="#111" transform="rotate(216 617.50 409.10)"/>
<ellipse cx="617.50" cy="407.44" rx="0.96" ry="1.60" fill="#111" transform="rotate(288 617.50 409.10)"/>
<ellipse cx="625.40" cy="407.44" rx="0.96" ry="1.60" fill="#111" transform="rotate(0 625.40 409.10)"/>
<ellipse cx="625.40" cy="407.44" rx="0.96" ry="1.60" fill="#111" transform="rotate(72 625.40 409.10)"/>
<ellipse cx="625.40" cy="407.44" rx="0.96" ry="1.60" fill="#111" transform="rotate(144 625.40 409.10)"/>
<ellipse cx="625.40" cy="407.44" rx="0.96" ry="1.60" fill="#111" transform="rotate(216 625.40 409.10)"/>
<ellipse cx="625.40" cy="407.44" rx="0.96" ry="1.60" fill="#111" transform="rotate(288 625.40 409.10)"/>
<path d="M640.80 386.60 L642.20 377.60 M643.10 386.60 L644.50 377.60 M639.70 380.60 H645.60 M639.20 383.50 H645.10 M647.00 386.60 L648.40 377.60 M649.30 386.60 L650.70 377.60 M645.90 380.60 H651.80 M645.40 383.50 H651.30 M653.20 386.60 L654.60 377.60 M655.50 386.60 L656.90 377.60 M652.10 380.60 H658.00 M651.60 383.50 H657.50 " stroke="#111" stroke-width="1.05" fill="none"/>
<line x1="52.40" y1="524.90" x2="52.40" y2="637.40" stroke="#000" stroke-width="1.2"/>
<line x1="51.80" y1="636.80" x2="155.90" y2="636.80" stroke="#000" stroke-width="1.2"/>
<line x1="52.40" y1="525.50" x2="56.90" y2="525.50" stroke="#000" stroke-width="1.2"/>
<text x="50.60" y="528.70" font-size="9.2" text-anchor="end" font-weight="bold" font-style="normal" fill="#000">100</text>
<line x1="52.40" y1="547.70" x2="56.90" y2="547.70" stroke="#000" stroke-width="1.2"/>
<text x="50.60" y="550.90" font-size="9.2" text-anchor="end" font-weight="bold" font-style="normal" fill="#000">80</text>
<line x1="52.40" y1="569.90" x2="56.90" y2="569.90" stroke="#000" stroke-width="1.2"/>
<text x="50.60" y="573.10" font-size="9.2" text-anchor="end" font-weight="bold" font-style="normal" fill="#000">60</text>
<line x1="52.40" y1="592.10" x2="56.90" y2="592.10" stroke="#000" stroke-width="1.2"/>
<text x="50.60" y="595.30" font-size="9.2" text-anchor="end" font-weight="bold" font-style="normal" fill="#000">40</text>
<line x1="52.40" y1="614.30" x2="56.90" y2="614.30" stroke="#000" stroke-width="1.2"/>
<text x="50.60" y="617.50" font-size="9.2" text-anchor="end" font-weight="bold" font-style="normal" fill="#000">20</text>
<line x1="52.40" y1="636.50" x2="56.90" y2="636.50" stroke="#000" stroke-width="1.2"/>
<text x="50.60" y="639.70" font-size="9.2" text-anchor="end" font-weight="bold" font-style="normal" fill="#000">0</text>
<path d="M63.30 636.80 V535.50 H83.40 V636.80" fill="none" stroke="#ff6a13" stroke-width="1.4"/>
<path d="M73.40 531.50 V539.80 M68.40 531.50 H78.40 M68.40 539.80 H78.40" fill="none" stroke="#ff6a13" stroke-width="1.2"/>
<circle cx="75.10" cy="529.40" r="1.75" fill="#ff6a13"/>
<circle cx="68.20" cy="532.20" r="1.75" fill="#ff6a13"/>
<circle cx="71.60" cy="533.20" r="1.75" fill="#ff6a13"/>
<circle cx="77.20" cy="532.80" r="1.75" fill="#ff6a13"/>
<circle cx="64.40" cy="534.30" r="1.75" fill="#ff6a13"/>
<circle cx="82.00" cy="534.30" r="1.75" fill="#ff6a13"/>
<circle cx="68.90" cy="536.00" r="1.75" fill="#ff6a13"/>
<circle cx="74.40" cy="535.50" r="1.75" fill="#ff6a13"/>
<circle cx="79.70" cy="536.40" r="1.75" fill="#ff6a13"/>
<circle cx="71.60" cy="537.30" r="1.75" fill="#ff6a13"/>
<circle cx="75.80" cy="538.00" r="1.75" fill="#ff6a13"/>
<circle cx="68.20" cy="541.50" r="1.75" fill="#ff6a13"/>
<circle cx="75.10" cy="540.50" r="1.75" fill="#ff6a13"/>
<circle cx="78.60" cy="539.80" r="1.75" fill="#ff6a13"/>
<text x="72.85" y="648.60" font-size="10.6" text-anchor="middle" font-weight="bold" font-style="normal" fill="#000">CON</text>
<path d="M94.50 636.80 V561.30 H114.60 V636.80" fill="none" stroke="#4d9fff" stroke-width="1.4"/>
<path d="M104.20 547.70 V573.40 M99.40 547.70 H109.00 M99.40 573.40 H109.00" fill="none" stroke="#4d9fff" stroke-width="1.2"/>
<circle cx="104.20" cy="541.50" r="1.75" fill="#4d9fff"/>
<circle cx="109.40" cy="550.80" r="1.75" fill="#4d9fff"/>
<circle cx="99.10" cy="553.30" r="1.75" fill="#4d9fff"/>
<circle cx="113.00" cy="553.60" r="1.75" fill="#4d9fff"/>
<circle cx="95.50" cy="556.30" r="1.75" fill="#4d9fff"/>
<circle cx="102.20" cy="556.80" r="1.75" fill="#4d9fff"/>
<circle cx="106.00" cy="556.80" r="1.75" fill="#4d9fff"/>
<circle cx="109.40" cy="555.40" r="1.75" fill="#4d9fff"/>
<circle cx="102.90" cy="571.00" r="1.75" fill="#4d9fff"/>
<circle cx="106.30" cy="571.60" r="1.75" fill="#4d9fff"/>
<circle cx="109.40" cy="569.20" r="1.75" fill="#4d9fff"/>
<circle cx="104.20" cy="590.70" r="1.75" fill="#4d9fff"/>
<text x="104.05" y="648.60" font-size="10.6" text-anchor="middle" font-weight="bold" font-style="normal" fill="#000">SUS</text>
<path d="M125.50 636.80 V542.20 H145.40 V636.80" fill="none" stroke="#8c8c8c" stroke-width="1.4"/>
<path d="M135.40 537.30 V547.00 M131.80 537.30 H139.00 M131.80 547.00 H139.00" fill="none" stroke="#8c8c8c" stroke-width="1.2"/>
<circle cx="138.20" cy="533.90" r="1.75" fill="#8c8c8c"/>
<circle cx="132.40" cy="536.40" r="1.75" fill="#8c8c8c"/>
<circle cx="126.40" cy="543.30" r="1.75" fill="#8c8c8c"/>
<circle cx="132.40" cy="542.20" r="1.75" fill="#8c8c8c"/>
<circle cx="138.20" cy="542.20" r="1.75" fill="#8c8c8c"/>
<circle cx="144.50" cy="542.20" r="1.75" fill="#8c8c8c"/>
<circle cx="132.40" cy="547.70" r="1.75" fill="#8c8c8c"/>
<circle cx="138.20" cy="546.40" r="1.75" fill="#8c8c8c"/>
<text x="134.95" y="648.60" font-size="10.6" text-anchor="middle" font-weight="bold" font-style="normal" fill="#000">RES</text>
<text x="101.40" y="515.90" font-size="12.0" text-anchor="middle" font-weight="bold" font-style="normal" fill="#000">SPT</text>
<text x="32.00" y="581.00" font-size="12.1" text-anchor="middle" font-weight="bold" font-style="normal" fill="#000" transform="rotate(-90 32.00 581.00)">Sucrose preference (%)</text>
<ellipse cx="96.40" cy="529.54" rx="0.96" ry="1.60" fill="#111" transform="rotate(0 96.40 531.20)"/>
<ellipse cx="96.40" cy="529.54" rx="0.96" ry="1.60" fill="#111" transform="rotate(72 96.40 531.20)"/>
<ellipse cx="96.40" cy="529.54" rx="0.96" ry="1.60" fill="#111" transform="rotate(144 96.40 531.20)"/>
<ellipse cx="96.40" cy="529.54" rx="0.96" ry="1.60" fill="#111" transform="rotate(216 96.40 531.20)"/>
<ellipse cx="96.40" cy="529.54" rx="0.96" ry="1.60" fill="#111" transform="rotate(288 96.40 531.20)"/>
<ellipse cx="104.30" cy="529.54" rx="0.96" ry="1.60" fill="#111" transform="rotate(0 104.30 531.20)"/>
<ellipse cx="104.30" cy="529.54" rx="0.96" ry="1.60" fill="#111" transform="rotate(72 104.30 531.20)"/>
<ellipse cx="104.30" cy="529.54" rx="0.96" ry="1.60" fill="#111" transform="rotate(144 104.30 531.20)"/>
<ellipse cx="104.30" cy="529.54" rx="0.96" ry="1.60" fill="#111" transform="rotate(216 104.30 531.20)"/>
<ellipse cx="104.30" cy="529.54" rx="0.96" ry="1.60" fill="#111" transform="rotate(288 104.30 531.20)"/>
<ellipse cx="112.20" cy="529.54" rx="0.96" ry="1.60" fill="#111" transform="rotate(0 112.20 531.20)"/>
<ellipse cx="112.20" cy="529.54" rx="0.96" ry="1.60" fill="#111" transform="rotate(72 112.20 531.20)"/>
<ellipse cx="112.20" cy="529.54" rx="0.96" ry="1.60" fill="#111" transform="rotate(144 112.20 531.20)"/>
<ellipse cx="112.20" cy="529.54" rx="0.96" ry="1.60" fill="#111" transform="rotate(216 112.20 531.20)"/>
<ellipse cx="112.20" cy="529.54" rx="0.96" ry="1.60" fill="#111" transform="rotate(288 112.20 531.20)"/>
<path d="M127.80 528.00 L129.20 519.00 M130.10 528.00 L131.50 519.00 M126.70 522.00 H132.60 M126.20 524.90 H132.10 M134.00 528.00 L135.40 519.00 M136.30 528.00 L137.70 519.00 M132.90 522.00 H138.80 M132.40 524.90 H138.30 M140.20 528.00 L141.60 519.00 M142.50 528.00 L143.90 519.00 M139.10 522.00 H145.00 M138.60 524.90 H144.50 " stroke="#111" stroke-width="1.05" fill="none"/>
<line x1="219.20" y1="525.00" x2="219.20" y2="637.20" stroke="#000" stroke-width="1.2"/>
<line x1="218.60" y1="636.60" x2="322.60" y2="636.60" stroke="#000" stroke-width="1.2"/>
<line x1="219.20" y1="525.60" x2="223.70" y2="525.60" stroke="#000" stroke-width="1.2"/>
<text x="217.40" y="528.80" font-size="9.2" text-anchor="end" font-weight="bold" font-style="normal" fill="#000">200</text>
<line x1="219.20" y1="553.30" x2="223.70" y2="553.30" stroke="#000" stroke-width="1.2"/>
<text x="217.40" y="556.50" font-size="9.2" text-anchor="end" font-weight="bold" font-style="normal" fill="#000">150</text>
<line x1="219.20" y1="581.00" x2="223.70" y2="581.00" stroke="#000" stroke-width="1.2"/>
<text x="217.40" y="584.20" font-size="9.2" text-anchor="end" font-weight="bold" font-style="normal" fill="#000">100</text>
<line x1="219.20" y1="608.70" x2="223.70" y2="608.70" stroke="#000" stroke-width="1.2"/>
<text x="217.40" y="611.90" font-size="9.2" text-anchor="end" font-weight="bold" font-style="normal" fill="#000">50</text>
<line x1="219.20" y1="636.40" x2="223.70" y2="636.40" stroke="#000" stroke-width="1.2"/>
<text x="217.40" y="639.60" font-size="9.2" text-anchor="end" font-weight="bold" font-style="normal" fill="#000">0</text>
<path d="M229.60 636.60 V578.30 H249.70 V636.60" fill="none" stroke="#ff6a13" stroke-width="1.4"/>
<path d="M239.80 568.80 V586.20 M235.00 568.80 H244.60 M235.00 586.20 H244.60" fill="none" stroke="#ff6a13" stroke-width="1.2"/>
<circle cx="231.00" cy="567.70" r="1.75" fill="#ff6a13"/>
<circle cx="231.00" cy="569.50" r="1.75" fill="#ff6a13"/>
<circle cx="231.00" cy="571.30" r="1.75" fill="#ff6a13"/>
<circle cx="236.60" cy="570.20" r="1.75" fill="#ff6a13"/>
<circle cx="239.30" cy="570.20" r="1.75" fill="#ff6a13"/>
<circle cx="242.50" cy="570.20" r="1.75" fill="#ff6a13"/>
<circle cx="248.60" cy="568.10" r="1.75" fill="#ff6a13"/>
<circle cx="236.60" cy="575.50" r="1.75" fill="#ff6a13"/>
<circle cx="231.00" cy="578.30" r="1.75" fill="#ff6a13"/>
<circle cx="239.80" cy="578.50" r="1.75" fill="#ff6a13"/>
<circle cx="248.60" cy="578.30" r="1.75" fill="#ff6a13"/>
<circle cx="236.60" cy="582.00" r="1.75" fill="#ff6a13"/>
<circle cx="242.50" cy="581.30" r="1.75" fill="#ff6a13"/>
<circle cx="239.80" cy="586.90" r="1.75" fill="#ff6a13"/>
<circle cx="239.80" cy="597.30" r="1.75" fill="#ff6a13"/>
<text x="239.15" y="648.60" font-size="10.6" text-anchor="middle" font-weight="bold" font-style="normal" fill="#000">CON</text>
<path d="M261.10 636.60 V557.50 H281.20 V636.60" fill="none" stroke="#4d9fff" stroke-width="1.4"/>
<path d="M270.80 549.40 V563.30 M266.30 549.40 H275.30 M266.30 563.30 H275.30" fill="none" stroke="#4d9fff" stroke-width="1.2"/>
<circle cx="270.80" cy="545.00" r="1.75" fill="#4d9fff"/>
<circle cx="266.70" cy="550.10" r="1.75" fill="#4d9fff"/>
<circle cx="262.20" cy="552.20" r="1.75" fill="#4d9fff"/>
<circle cx="270.80" cy="552.20" r="1.75" fill="#4d9fff"/>
<circle cx="279.60" cy="552.20" r="1.75" fill="#4d9fff"/>
<circle cx="266.70" cy="554.70" r="1.75" fill="#4d9fff"/>
<circle cx="275.40" cy="554.70" r="1.75" fill="#4d9fff"/>
<circle cx="270.80" cy="559.10" r="1.75" fill="#4d9fff"/>
<circle cx="273.30" cy="561.60" r="1.75" fill="#4d9fff"/>
<circle cx="268.50" cy="563.30" r="1.75" fill="#4d9fff"/>
<circle cx="273.30" cy="563.30" r="1.75" fill="#4d9fff"/>
<circle cx="268.50" cy="568.10" r="1.75" fill="#4d9fff"/>
<circle cx="273.00" cy="567.40" r="1.75" fill="#4d9fff"/>
<text x="270.65" y="648.60" font-size="10.6" text-anchor="middle" font-weight="bold" font-style="normal" fill="#000">SUS</text>
<path d="M292.00 636.60 V575.50 H312.20 V636.60" fill="none" stroke="#8c8c8c" stroke-width="1.4"/>
<path d="M302.20 570.20 V580.20 M297.70 570.20 H306.70 M297.70 580.20 H306.70" fill="none" stroke="#8c8c8c" stroke-width="1.2"/>
<circle cx="293.40" cy="570.90" r="1.75" fill="#8c8c8c"/>
<circle cx="299.40" cy="568.60" r="1.75" fill="#8c8c8c"/>
<circle cx="304.90" cy="570.50" r="1.75" fill="#8c8c8c"/>
<circle cx="310.80" cy="570.50" r="1.75" fill="#8c8c8c"/>
<circle cx="296.20" cy="576.50" r="1.75" fill="#8c8c8c"/>
<circle cx="302.20" cy="578.80" r="1.75" fill="#8c8c8c"/>
<circle cx="308.00" cy="576.50" r="1.75" fill="#8c8c8c"/>
<circle cx="302.20" cy="586.20" r="1.75" fill="#8c8c8c"/>
<text x="301.60" y="648.60" font-size="10.6" text-anchor="middle" font-weight="bold" font-style="normal" fill="#000">RES</text>
<text x="270.30" y="515.90" font-size="12.0" text-anchor="middle" font-weight="bold" font-style="normal" fill="#000">TST</text>
<text x="197.50" y="581.00" font-size="12.1" text-anchor="middle" font-weight="bold" font-style="normal" fill="#000" transform="rotate(-90 197.50 581.00)">Immobility time (sec)</text>
<ellipse cx="262.80" cy="532.34" rx="0.96" ry="1.60" fill="#111" transform="rotate(0 262.80 534.00)"/>
<ellipse cx="262.80" cy="532.34" rx="0.96" ry="1.60" fill="#111" transform="rotate(72 262.80 534.00)"/>
<ellipse cx="262.80" cy="532.34" rx="0.96" ry="1.60" fill="#111" transform="rotate(144 262.80 534.00)"/>
<ellipse cx="262.80" cy="532.34" rx="0.96" ry="1.60" fill="#111" transform="rotate(216 262.80 534.00)"/>
<ellipse cx="262.80" cy="532.34" rx="0.96" ry="1.60" fill="#111" transform="rotate(288 262.80 534.00)"/>
<ellipse cx="270.70" cy="532.34" rx="0.96" ry="1.60" fill="#111" transform="rotate(0 270.70 534.00)"/>
<ellipse cx="270.70" cy="532.34" rx="0.96" ry="1.60" fill="#111" transform="rotate(72 270.70 534.00)"/>
<ellipse cx="270.70" cy="532.34" rx="0.96" ry="1.60" fill="#111" transform="rotate(144 270.70 534.00)"/>
<ellipse cx="270.70" cy="532.34" rx="0.96" ry="1.60" fill="#111" transform="rotate(216 270.70 534.00)"/>
<ellipse cx="270.70" cy="532.34" rx="0.96" ry="1.60" fill="#111" transform="rotate(288 270.70 534.00)"/>
<ellipse cx="278.60" cy="532.34" rx="0.96" ry="1.60" fill="#111" transform="rotate(0 278.60 534.00)"/>
<ellipse cx="278.60" cy="532.34" rx="0.96" ry="1.60" fill="#111" transform="rotate(72 278.60 534.00)"/>
<ellipse cx="278.60" cy="532.34" rx="0.96" ry="1.60" fill="#111" transform="rotate(144 278.60 534.00)"/>
<ellipse cx="278.60" cy="532.34" rx="0.96" ry="1.60" fill="#111" transform="rotate(216 278.60 534.00)"/>
<ellipse cx="278.60" cy="532.34" rx="0.96" ry="1.60" fill="#111" transform="rotate(288 278.60 534.00)"/>
<path d="M294.30 560.10 L295.70 551.10 M296.60 560.10 L298.00 551.10 M293.20 554.10 H299.10 M292.70 557.00 H298.60 M300.50 560.10 L301.90 551.10 M302.80 560.10 L304.20 551.10 M299.40 554.10 H305.30 M298.90 557.00 H304.80 M306.70 560.10 L308.10 551.10 M309.00 560.10 L310.40 551.10 M305.60 554.10 H311.50 M305.10 557.00 H311.00 " stroke="#111" stroke-width="1.05" fill="none"/>
<line x1="384.20" y1="525.00" x2="384.20" y2="637.20" stroke="#000" stroke-width="1.2"/>
<line x1="383.60" y1="636.60" x2="487.60" y2="636.60" stroke="#000" stroke-width="1.2"/>
<line x1="384.20" y1="525.60" x2="388.70" y2="525.60" stroke="#000" stroke-width="1.2"/>
<text x="382.40" y="528.80" font-size="9.2" text-anchor="end" font-weight="bold" font-style="normal" fill="#000">200</text>
<line x1="384.20" y1="553.30" x2="388.70" y2="553.30" stroke="#000" stroke-width="1.2"/>
<text x="382.40" y="556.50" font-size="9.2" text-anchor="end" font-weight="bold" font-style="normal" fill="#000">150</text>
<line x1="384.20" y1="581.00" x2="388.70" y2="581.00" stroke="#000" stroke-width="1.2"/>
<text x="382.40" y="584.20" font-size="9.2" text-anchor="end" font-weight="bold" font-style="normal" fill="#000">100</text>
<line x1="384.20" y1="608.70" x2="388.70" y2="608.70" stroke="#000" stroke-width="1.2"/>
<text x="382.40" y="611.90" font-size="9.2" text-anchor="end" font-weight="bold" font-style="normal" fill="#000">50</text>
<line x1="384.20" y1="636.40" x2="388.70" y2="636.40" stroke="#000" stroke-width="1.2"/>
<text x="382.40" y="639.60" font-size="9.2" text-anchor="end" font-weight="bold" font-style="normal" fill="#000">0</text>
<path d="M394.60 636.60 V584.10 H414.70 V636.60" fill="none" stroke="#ff6a13" stroke-width="1.4"/>
<path d="M404.30 573.40 V592.80 M399.30 573.40 H409.30 M399.30 592.80 H409.30" fill="none" stroke="#ff6a13" stroke-width="1.2"/>
<circle cx="400.20" cy="572.00" r="1.75" fill="#ff6a13"/>
<circle cx="404.30" cy="575.20" r="1.75" fill="#ff6a13"/>
<circle cx="400.20" cy="577.10" r="1.75" fill="#ff6a13"/>
<circle cx="396.00" cy="579.90" r="1.75" fill="#ff6a13"/>
<circle cx="404.30" cy="580.30" r="1.75" fill="#ff6a13"/>
<circle cx="408.90" cy="580.30" r="1.75" fill="#ff6a13"/>
<circle cx="413.40" cy="578.90" r="1.75" fill="#ff6a13"/>
<circle cx="400.20" cy="584.50" r="1.75" fill="#ff6a13"/>
<circle cx="404.30" cy="584.10" r="1.75" fill="#ff6a13"/>
<circle cx="408.90" cy="586.60" r="1.75" fill="#ff6a13"/>
<circle cx="404.30" cy="594.90" r="1.75" fill="#ff6a13"/>
<circle cx="404.30" cy="606.70" r="1.75" fill="#ff6a13"/>
<text x="404.15" y="648.60" font-size="10.6" text-anchor="middle" font-weight="bold" font-style="normal" fill="#000">CON</text>
<path d="M425.60 636.60 V554.00 H445.70 V636.60" fill="none" stroke="#4d9fff" stroke-width="1.4"/>
<path d="M435.50 547.00 V560.20 M430.90 547.00 H440.10 M430.90 560.20 H440.10" fill="none" stroke="#4d9fff" stroke-width="1.2"/>
<circle cx="427.00" cy="544.30" r="1.75" fill="#4d9fff"/>
<circle cx="432.50" cy="547.00" r="1.75" fill="#4d9fff"/>
<circle cx="438.60" cy="546.60" r="1.75" fill="#4d9fff"/>
<circle cx="444.10" cy="546.40" r="1.75" fill="#4d9fff"/>
<circle cx="432.50" cy="551.60" r="1.75" fill="#4d9fff"/>
<circle cx="438.60" cy="551.60" r="1.75" fill="#4d9fff"/>
<circle cx="435.50" cy="554.70" r="1.75" fill="#4d9fff"/>
<circle cx="432.50" cy="557.20" r="1.75" fill="#4d9fff"/>
<circle cx="438.60" cy="557.20" r="1.75" fill="#4d9fff"/>
<circle cx="432.50" cy="560.50" r="1.75" fill="#4d9fff"/>
<circle cx="427.00" cy="561.60" r="1.75" fill="#4d9fff"/>
<circle cx="438.60" cy="561.90" r="1.75" fill="#4d9fff"/>
<circle cx="444.10" cy="561.60" r="1.75" fill="#4d9fff"/>
<text x="435.15" y="648.60" font-size="10.6" text-anchor="middle" font-weight="bold" font-style="normal" fill="#000">SUS</text>
<path d="M456.60 636.60 V579.40 H476.90 V636.60" fill="none" stroke="#8c8c8c" stroke-width="1.4"/>
<path d="M466.80 571.60 V586.30 M462.00 571.60 H471.60 M462.00 586.30 H471.60" fill="none" stroke="#c8c8c8" stroke-width="1.2"/>
<circle cx="466.80" cy="564.70" r="1.75" fill="#8c8c8c"/>
<circle cx="463.60" cy="574.40" r="1.75" fill="#8c8c8c"/>
<circle cx="469.50" cy="576.20" r="1.75" fill="#8c8c8c"/>
<circle cx="463.60" cy="583.10" r="1.75" fill="#8c8c8c"/>
<circle cx="469.50" cy="584.10" r="1.75" fill="#8c8c8c"/>
<circle cx="458.00" cy="586.30" r="1.75" fill="#8c8c8c"/>
<circle cx="475.10" cy="583.50" r="1.75" fill="#8c8c8c"/>
<circle cx="466.80" cy="584.10" r="1.75" fill="#8c8c8c"/>
<text x="466.25" y="648.60" font-size="10.6" text-anchor="middle" font-weight="bold" font-style="normal" fill="#000">RES</text>
<text x="434.80" y="515.90" font-size="12.0" text-anchor="middle" font-weight="bold" font-style="normal" fill="#000">FST</text>
<text x="362.50" y="581.00" font-size="12.1" text-anchor="middle" font-weight="bold" font-style="normal" fill="#000" transform="rotate(-90 362.50 581.00)">Immobility time (sec)</text>
<ellipse cx="427.90" cy="528.74" rx="0.96" ry="1.60" fill="#111" transform="rotate(0 427.90 530.40)"/>
<ellipse cx="427.90" cy="528.74" rx="0.96" ry="1.60" fill="#111" transform="rotate(72 427.90 530.40)"/>
<ellipse cx="427.90" cy="528.74" rx="0.96" ry="1.60" fill="#111" transform="rotate(144 427.90 530.40)"/>
<ellipse cx="427.90" cy="528.74" rx="0.96" ry="1.60" fill="#111" transform="rotate(216 427.90 530.40)"/>
<ellipse cx="427.90" cy="528.74" rx="0.96" ry="1.60" fill="#111" transform="rotate(288 427.90 530.40)"/>
<ellipse cx="435.80" cy="528.74" rx="0.96" ry="1.60" fill="#111" transform="rotate(0 435.80 530.40)"/>
<ellipse cx="435.80" cy="528.74" rx="0.96" ry="1.60" fill="#111" transform="rotate(72 435.80 530.40)"/>
<ellipse cx="435.80" cy="528.74" rx="0.96" ry="1.60" fill="#111" transform="rotate(144 435.80 530.40)"/>
<ellipse cx="435.80" cy="528.74" rx="0.96" ry="1.60" fill="#111" transform="rotate(216 435.80 530.40)"/>
<ellipse cx="435.80" cy="528.74" rx="0.96" ry="1.60" fill="#111" transform="rotate(288 435.80 530.40)"/>
<ellipse cx="443.70" cy="528.74" rx="0.96" ry="1.60" fill="#111" transform="rotate(0 443.70 530.40)"/>
<ellipse cx="443.70" cy="528.74" rx="0.96" ry="1.60" fill="#111" transform="rotate(72 443.70 530.40)"/>
<ellipse cx="443.70" cy="528.74" rx="0.96" ry="1.60" fill="#111" transform="rotate(144 443.70 530.40)"/>
<ellipse cx="443.70" cy="528.74" rx="0.96" ry="1.60" fill="#111" transform="rotate(216 443.70 530.40)"/>
<ellipse cx="443.70" cy="528.74" rx="0.96" ry="1.60" fill="#111" transform="rotate(288 443.70 530.40)"/>
<path d="M459.10 557.60 L460.50 548.60 M461.40 557.60 L462.80 548.60 M458.00 551.60 H463.90 M457.50 554.50 H463.40 M465.30 557.60 L466.70 548.60 M467.60 557.60 L469.00 548.60 M464.20 551.60 H470.10 M463.70 554.50 H469.60 M471.50 557.60 L472.90 548.60 M473.80 557.60 L475.20 548.60 M470.40 551.60 H476.30 M469.90 554.50 H475.80 " stroke="#111" stroke-width="1.05" fill="none"/>
<line x1="549.70" y1="521.10" x2="549.70" y2="605.20" stroke="#000" stroke-width="1.2"/>
<line x1="549.70" y1="612.80" x2="549.70" y2="634.70" stroke="#000" stroke-width="1.2"/>
<line x1="547.10" y1="607.80" x2="552.70" y2="603.40" stroke="#000" stroke-width="1.2"/>
<line x1="547.10" y1="615.60" x2="552.70" y2="610.60" stroke="#000" stroke-width="1.2"/>
<line x1="549.10" y1="634.10" x2="655.00" y2="634.10" stroke="#000" stroke-width="1.2"/>
<line x1="549.70" y1="521.70" x2="554.20" y2="521.70" stroke="#000" stroke-width="1.2"/>
<text x="547.90" y="524.90" font-size="9.2" text-anchor="end" font-weight="bold" font-style="normal" fill="#000">100</text>
<line x1="549.70" y1="549.60" x2="554.20" y2="549.60" stroke="#000" stroke-width="1.2"/>
<text x="547.90" y="552.80" font-size="9.2" text-anchor="end" font-weight="bold" font-style="normal" fill="#000">80</text>
<line x1="549.70" y1="577.50" x2="554.20" y2="577.50" stroke="#000" stroke-width="1.2"/>
<text x="547.90" y="580.70" font-size="9.2" text-anchor="end" font-weight="bold" font-style="normal" fill="#000">60</text>
<text x="547.90" y="608.60" font-size="9.2" text-anchor="end" font-weight="bold" font-style="normal" fill="#000">40</text>
<line x1="549.70" y1="620.30" x2="554.20" y2="620.30" stroke="#000" stroke-width="1.2"/>
<text x="547.90" y="623.50" font-size="9.2" text-anchor="end" font-weight="bold" font-style="normal" fill="#000">20</text>
<line x1="549.70" y1="634.10" x2="554.20" y2="634.10" stroke="#000" stroke-width="1.2"/>
<text x="547.90" y="637.30" font-size="9.2" text-anchor="end" font-weight="bold" font-style="normal" fill="#000">0</text>
<path d="M560.40 605.70 V583.40 H580.30 V605.70 M560.40 613.30 V634.10 M580.30 613.30 V634.10" fill="none" stroke="#ff6a13" stroke-width="1.4"/>
<path d="M570.20 576.20 V589.10 M565.20 576.20 H575.20 M565.20 589.10 H575.20" fill="none" stroke="#ff6a13" stroke-width="1.2"/>
<circle cx="570.20" cy="570.30" r="1.75" fill="#ff6a13"/>
<circle cx="561.50" cy="578.70" r="1.75" fill="#ff6a13"/>
<circle cx="566.00" cy="577.80" r="1.75" fill="#ff6a13"/>
<circle cx="570.20" cy="577.80" r="1.75" fill="#ff6a13"/>
<circle cx="574.90" cy="578.70" r="1.75" fill="#ff6a13"/>
<circle cx="579.40" cy="580.70" r="1.75" fill="#ff6a13"/>
<circle cx="561.50" cy="584.10" r="1.75" fill="#ff6a13"/>
<circle cx="566.00" cy="584.10" r="1.75" fill="#ff6a13"/>
<circle cx="574.90" cy="583.70" r="1.75" fill="#ff6a13"/>
<circle cx="579.40" cy="585.40" r="1.75" fill="#ff6a13"/>
<circle cx="570.20" cy="586.20" r="1.75" fill="#ff6a13"/>
<circle cx="570.20" cy="595.80" r="1.75" fill="#ff6a13"/>
<text x="569.85" y="646.40" font-size="10.6" text-anchor="middle" font-weight="bold" font-style="normal" fill="#000">CON</text>
<path d="M591.70 605.70 V561.10 H611.80 V605.70 M591.70 613.30 V634.10 M611.80 613.30 V634.10" fill="none" stroke="#4d9fff" stroke-width="1.4"/>
<path d="M601.60 556.00 V565.60 M597.00 556.00 H606.20 M597.00 565.60 H606.20" fill="none" stroke="#4d9fff" stroke-width="1.2"/>
<circle cx="593.30" cy="555.50" r="1.75" fill="#4d9fff"/>
<circle cx="598.70" cy="554.30" r="1.75" fill="#4d9fff"/>
<circle cx="604.60" cy="556.00" r="1.75" fill="#4d9fff"/>
<circle cx="610.50" cy="553.80" r="1.75" fill="#4d9fff"/>
<circle cx="593.30" cy="559.90" r="1.75" fill="#4d9fff"/>
<circle cx="598.70" cy="560.20" r="1.75" fill="#4d9fff"/>
<circle cx="601.60" cy="558.50" r="1.75" fill="#4d9fff"/>
<circle cx="604.60" cy="561.10" r="1.75" fill="#4d9fff"/>
<circle cx="610.50" cy="561.60" r="1.75" fill="#4d9fff"/>
<circle cx="598.70" cy="564.40" r="1.75" fill="#4d9fff"/>
<circle cx="602.90" cy="566.10" r="1.75" fill="#4d9fff"/>
<circle cx="607.40" cy="567.30" r="1.75" fill="#4d9fff"/>
<circle cx="595.70" cy="569.40" r="1.75" fill="#4d9fff"/>
<text x="601.25" y="646.40" font-size="10.6" text-anchor="middle" font-weight="bold" font-style="normal" fill="#000">SUS</text>
<path d="M623.10 605.70 V583.40 H643.20 V605.70 M623.10 613.30 V634.10 M643.20 613.30 V634.10" fill="none" stroke="#8c8c8c" stroke-width="1.4"/>
<path d="M633.10 576.70 V587.90 M628.10 576.70 H638.10 M628.10 587.90 H638.10" fill="none" stroke="#8c8c8c" stroke-width="1.2"/>
<circle cx="626.40" cy="575.70" r="1.75" fill="#8c8c8c"/>
<circle cx="633.10" cy="575.30" r="1.75" fill="#8c8c8c"/>
<circle cx="640.40" cy="578.70" r="1.75" fill="#8c8c8c"/>
<circle cx="626.40" cy="581.70" r="1.75" fill="#8c8c8c"/>
<circle cx="633.10" cy="584.10" r="1.75" fill="#8c8c8c"/>
<circle cx="640.40" cy="584.10" r="1.75" fill="#8c8c8c"/>
<circle cx="626.40" cy="589.10" r="1.75" fill="#8c8c8c"/>
<circle cx="640.40" cy="588.40" r="1.75" fill="#8c8c8c"/>
<text x="632.65" y="646.40" font-size="10.6" text-anchor="middle" font-weight="bold" font-style="normal" fill="#000">RES</text>
<text x="600.00" y="515.90" font-size="12.0" text-anchor="middle" font-weight="bold" font-style="normal" fill="#000"></text>
<text x="528.50" y="577.00" font-size="12.1" text-anchor="middle" font-weight="bold" font-style="normal" fill="#000" transform="rotate(-90 528.50 577.00)">T cells (%)</text>
<ellipse cx="593.70" cy="539.24" rx="0.96" ry="1.60" fill="#111" transform="rotate(0 593.70 540.90)"/>
<ellipse cx="593.70" cy="539.24" rx="0.96" ry="1.60" fill="#111" transform="rotate(72 593.70 540.90)"/>
<ellipse cx="593.70" cy="539.24" rx="0.96" ry="1.60" fill="#111" transform="rotate(144 593.70 540.90)"/>
<ellipse cx="593.70" cy="539.24" rx="0.96" ry="1.60" fill="#111" transform="rotate(216 593.70 540.90)"/>
<ellipse cx="593.70" cy="539.24" rx="0.96" ry="1.60" fill="#111" transform="rotate(288 593.70 540.90)"/>
<ellipse cx="601.60" cy="539.24" rx="0.96" ry="1.60" fill="#111" transform="rotate(0 601.60 540.90)"/>
<ellipse cx="601.60" cy="539.24" rx="0.96" ry="1.60" fill="#111" transform="rotate(72 601.60 540.90)"/>
<ellipse cx="601.60" cy="539.24" rx="0.96" ry="1.60" fill="#111" transform="rotate(144 601.60 540.90)"/>
<ellipse cx="601.60" cy="539.24" rx="0.96" ry="1.60" fill="#111" transform="rotate(216 601.60 540.90)"/>
<ellipse cx="601.60" cy="539.24" rx="0.96" ry="1.60" fill="#111" transform="rotate(288 601.60 540.90)"/>
<ellipse cx="609.50" cy="539.24" rx="0.96" ry="1.60" fill="#111" transform="rotate(0 609.50 540.90)"/>
<ellipse cx="609.50" cy="539.24" rx="0.96" ry="1.60" fill="#111" transform="rotate(72 609.50 540.90)"/>
<ellipse cx="609.50" cy="539.24" rx="0.96" ry="1.60" fill="#111" transform="rotate(144 609.50 540.90)"/>
<ellipse cx="609.50" cy="539.24" rx="0.96" ry="1.60" fill="#111" transform="rotate(216 609.50 540.90)"/>
<ellipse cx="609.50" cy="539.24" rx="0.96" ry="1.60" fill="#111" transform="rotate(288 609.50 540.90)"/>
<path d="M625.60 566.20 L627.00 557.20 M627.90 566.20 L629.30 557.20 M624.50 560.20 H630.40 M624.00 563.10 H629.90 M631.80 566.20 L633.20 557.20 M634.10 566.20 L635.50 557.20 M630.70 560.20 H636.60 M630.20 563.10 H636.10 M638.00 566.20 L639.40 557.20 M640.30 566.20 L641.70 557.20 M636.90 560.20 H642.80 M636.40 563.10 H642.30 " stroke="#111" stroke-width="1.05" fill="none"/>
<line x1="67.20" y1="682.00" x2="67.20" y2="786.40" stroke="#000" stroke-width="1.2"/>
<line x1="66.60" y1="785.80" x2="78.30" y2="785.80" stroke="#000" stroke-width="1.2"/>
<line x1="89.80" y1="785.80" x2="193.40" y2="785.80" stroke="#000" stroke-width="1.2"/>
<line x1="75.90" y1="788.60" x2="81.50" y2="783.10" stroke="#000" stroke-width="1.3"/>
<line x1="87.00" y1="788.60" x2="93.40" y2="783.10" stroke="#000" stroke-width="1.3"/>
<line x1="67.20" y1="785.80" x2="70.20" y2="785.80" stroke="#000" stroke-width="1.2"/>
<text x="65.00" y="789.00" font-size="9.3" text-anchor="end" font-weight="bold" font-style="normal" fill="#000">0</text>
<line x1="67.20" y1="751.10" x2="70.20" y2="751.10" stroke="#000" stroke-width="1.2"/>
<text x="65.00" y="754.30" font-size="9.3" text-anchor="end" font-weight="bold" font-style="normal" fill="#000">40</text>
<line x1="67.20" y1="716.70" x2="70.20" y2="716.70" stroke="#000" stroke-width="1.2"/>
<text x="65.00" y="719.90" font-size="9.3" text-anchor="end" font-weight="bold" font-style="normal" fill="#000">80</text>
<line x1="67.20" y1="682.60" x2="70.20" y2="682.60" stroke="#000" stroke-width="1.2"/>
<text x="65.00" y="685.80" font-size="9.3" text-anchor="end" font-weight="bold" font-style="normal" fill="#000">120</text>
<text x="67.20" y="796.40" font-size="9.5" text-anchor="middle" font-weight="bold" font-style="normal" fill="#000">0</text>
<text x="78.50" y="796.40" font-size="9.5" text-anchor="middle" font-weight="bold" font-style="normal" fill="#000">10</text>
<text x="91.20" y="796.40" font-size="9.5" text-anchor="middle" font-weight="bold" font-style="normal" fill="#000">40</text>
<line x1="111.30" y1="785.80" x2="111.30" y2="782.80" stroke="#000" stroke-width="1.2"/>
<text x="111.30" y="796.40" font-size="9.5" text-anchor="middle" font-weight="bold" font-style="normal" fill="#000">50</text>
<line x1="131.70" y1="785.80" x2="131.70" y2="782.80" stroke="#000" stroke-width="1.2"/>
<text x="131.70" y="796.40" font-size="9.5" text-anchor="middle" font-weight="bold" font-style="normal" fill="#000">60</text>
<line x1="152.30" y1="785.80" x2="152.30" y2="782.80" stroke="#000" stroke-width="1.2"/>
<text x="152.30" y="796.40" font-size="9.5" text-anchor="middle" font-weight="bold" font-style="normal" fill="#000">70</text>
<line x1="172.60" y1="785.80" x2="172.60" y2="782.80" stroke="#000" stroke-width="1.2"/>
<text x="172.60" y="796.40" font-size="9.5" text-anchor="middle" font-weight="bold" font-style="normal" fill="#000">80</text>
<line x1="193.40" y1="785.80" x2="193.40" y2="782.80" stroke="#000" stroke-width="1.2"/>
<text x="193.40" y="796.40" font-size="9.5" text-anchor="middle" font-weight="bold" font-style="normal" fill="#000">90</text>
<line x1="106.10" y1="703.40" x2="165.70" y2="728.00" stroke="#000" stroke-width="1.1"/>
<circle cx="104.30" cy="702.30" r="2.25" fill="#0a800a"/>
<circle cx="116.60" cy="705.80" r="2.25" fill="#0a800a"/>
<circle cx="120.10" cy="706.40" r="2.25" fill="#0a800a"/>
<circle cx="123.60" cy="704.00" r="2.25" fill="#0a800a"/>
<circle cx="126.50" cy="705.80" r="2.25" fill="#0a800a"/>
<circle cx="122.50" cy="708.10" r="2.25" fill="#0a800a"/>
<circle cx="119.00" cy="708.70" r="2.25" fill="#0a800a"/>
<circle cx="130.00" cy="707.50" r="2.25" fill="#0a800a"/>
<circle cx="133.50" cy="705.80" r="2.25" fill="#0a800a"/>
<circle cx="125.40" cy="709.90" r="2.25" fill="#0a800a"/>
<circle cx="129.50" cy="709.90" r="2.25" fill="#0a800a"/>
<circle cx="113.70" cy="711.60" r="2.25" fill="#0a800a"/>
<circle cx="120.10" cy="712.20" r="2.25" fill="#0a800a"/>
<circle cx="125.40" cy="712.80" r="2.25" fill="#0a800a"/>
<circle cx="134.70" cy="712.20" r="2.25" fill="#0a800a"/>
<circle cx="115.40" cy="715.70" r="2.25" fill="#0a800a"/>
<circle cx="121.30" cy="716.90" r="2.25" fill="#0a800a"/>
<circle cx="142.30" cy="708.50" r="2.25" fill="#0a800a"/>
<circle cx="166.00" cy="711.60" r="2.25" fill="#0a800a"/>
<circle cx="145.80" cy="721.00" r="2.25" fill="#0a800a"/>
<circle cx="154.30" cy="718.60" r="2.25" fill="#0a800a"/>
<circle cx="153.20" cy="723.90" r="2.25" fill="#0a800a"/>
<circle cx="156.90" cy="722.70" r="2.25" fill="#0a800a"/>
<circle cx="161.00" cy="723.30" r="2.25" fill="#0a800a"/>
<circle cx="165.10" cy="721.00" r="2.25" fill="#0a800a"/>
<circle cx="142.90" cy="734.40" r="2.25" fill="#0a800a"/>
<circle cx="148.20" cy="735.60" r="2.25" fill="#0a800a"/>
<circle cx="163.70" cy="733.50" r="2.25" fill="#0a800a"/>
<circle cx="158.10" cy="749.60" r="2.25" fill="#0a800a"/>
<text x="98.00" y="678.50" font-size="11.6" text-anchor="start" font-weight="bold" font-style="normal" fill="#000">T cells &amp; SPT</text>
<text x="132.10" y="811.10" font-size="10.3" text-anchor="middle" font-weight="bold" font-style="normal" fill="#000">T cells</text>
<text x="44.30" y="732.30" font-size="11.7" text-anchor="middle" font-weight="bold" font-style="normal" fill="#000" transform="rotate(-90 44.30 732.30)">Sucrose preference (%)</text>
<text x="141.00" y="759.10" font-size="11.5" text-anchor="start" font-weight="bold" font-style="normal" fill="#000">r = -0.643</text>
<text x="141.00" y="772.70" font-size="11.5" font-weight="bold" fill="#000"><tspan font-style="italic">P</tspan> &lt; 0.0001</text>
<line x1="276.20" y1="683.00" x2="276.20" y2="787.30" stroke="#000" stroke-width="1.2"/>
<line x1="275.60" y1="786.70" x2="286.40" y2="786.70" stroke="#000" stroke-width="1.2"/>
<line x1="297.80" y1="786.70" x2="401.50" y2="786.70" stroke="#000" stroke-width="1.2"/>
<line x1="284.00" y1="789.50" x2="289.60" y2="784.00" stroke="#000" stroke-width="1.3"/>
<line x1="295.00" y1="789.50" x2="301.40" y2="784.00" stroke="#000" stroke-width="1.3"/>
<line x1="276.20" y1="786.70" x2="279.20" y2="786.70" stroke="#000" stroke-width="1.2"/>
<text x="274.00" y="789.90" font-size="9.3" text-anchor="end" font-weight="bold" font-style="normal" fill="#000">0</text>
<line x1="276.20" y1="760.90" x2="279.20" y2="760.90" stroke="#000" stroke-width="1.2"/>
<text x="274.00" y="764.10" font-size="9.3" text-anchor="end" font-weight="bold" font-style="normal" fill="#000">50</text>
<line x1="276.20" y1="735.10" x2="279.20" y2="735.10" stroke="#000" stroke-width="1.2"/>
<text x="274.00" y="738.30" font-size="9.3" text-anchor="end" font-weight="bold" font-style="normal" fill="#000">100</text>
<line x1="276.20" y1="709.40" x2="279.20" y2="709.40" stroke="#000" stroke-width="1.2"/>
<text x="274.00" y="712.60" font-size="9.3" text-anchor="end" font-weight="bold" font-style="normal" fill="#000">150</text>
<line x1="276.20" y1="683.60" x2="279.20" y2="683.60" stroke="#000" stroke-width="1.2"/>
<text x="274.00" y="686.80" font-size="9.3" text-anchor="end" font-weight="bold" font-style="normal" fill="#000">200</text>
<text x="276.20" y="797.30" font-size="9.5" text-anchor="middle" font-weight="bold" font-style="normal" fill="#000">0</text>
<text x="286.60" y="797.30" font-size="9.5" text-anchor="middle" font-weight="bold" font-style="normal" fill="#000">10</text>
<text x="298.60" y="797.30" font-size="9.5" text-anchor="middle" font-weight="bold" font-style="normal" fill="#000">40</text>
<line x1="318.50" y1="786.70" x2="318.50" y2="783.70" stroke="#000" stroke-width="1.2"/>
<text x="318.50" y="797.30" font-size="9.5" text-anchor="middle" font-weight="bold" font-style="normal" fill="#000">50</text>
<line x1="339.50" y1="786.70" x2="339.50" y2="783.70" stroke="#000" stroke-width="1.2"/>
<text x="339.50" y="797.30" font-size="9.5" text-anchor="middle" font-weight="bold" font-style="normal" fill="#000">60</text>
<line x1="360.30" y1="786.70" x2="360.30" y2="783.70" stroke="#000" stroke-width="1.2"/>
<text x="360.30" y="797.30" font-size="9.5" text-anchor="middle" font-weight="bold" font-style="normal" fill="#000">70</text>
<line x1="380.90" y1="786.70" x2="380.90" y2="783.70" stroke="#000" stroke-width="1.2"/>
<text x="380.90" y="797.30" font-size="9.5" text-anchor="middle" font-weight="bold" font-style="normal" fill="#000">80</text>
<line x1="401.50" y1="786.70" x2="401.50" y2="783.70" stroke="#000" stroke-width="1.2"/>
<text x="401.50" y="797.30" font-size="9.5" text-anchor="middle" font-weight="bold" font-style="normal" fill="#000">90</text>
<line x1="313.20" y1="739.00" x2="374.90" y2="710.10" stroke="#000" stroke-width="1.1"/>
<circle cx="312.90" cy="733.00" r="2.25" fill="#0a800a"/>
<circle cx="322.30" cy="730.90" r="2.25" fill="#0a800a"/>
<circle cx="323.70" cy="725.30" r="2.25" fill="#0a800a"/>
<circle cx="327.80" cy="724.50" r="2.25" fill="#0a800a"/>
<circle cx="330.10" cy="723.30" r="2.25" fill="#0a800a"/>
<circle cx="332.50" cy="723.30" r="2.25" fill="#0a800a"/>
<circle cx="329.50" cy="725.60" r="2.25" fill="#0a800a"/>
<circle cx="328.90" cy="735.00" r="2.25" fill="#0a800a"/>
<circle cx="327.80" cy="740.80" r="2.25" fill="#0a800a"/>
<circle cx="325.40" cy="750.20" r="2.25" fill="#0a800a"/>
<circle cx="334.20" cy="733.80" r="2.25" fill="#0a800a"/>
<circle cx="334.80" cy="736.10" r="2.25" fill="#0a800a"/>
<circle cx="338.30" cy="725.30" r="2.25" fill="#0a800a"/>
<circle cx="338.90" cy="730.30" r="2.25" fill="#0a800a"/>
<circle cx="338.90" cy="732.60" r="2.25" fill="#0a800a"/>
<circle cx="343.00" cy="725.60" r="2.25" fill="#0a800a"/>
<circle cx="342.40" cy="740.00" r="2.25" fill="#0a800a"/>
<circle cx="350.80" cy="726.40" r="2.25" fill="#0a800a"/>
<circle cx="351.50" cy="708.70" r="2.25" fill="#0a800a"/>
<circle cx="356.40" cy="708.70" r="2.25" fill="#0a800a"/>
<circle cx="354.30" cy="713.90" r="2.25" fill="#0a800a"/>
<circle cx="361.70" cy="711.00" r="2.25" fill="#0a800a"/>
<circle cx="366.30" cy="711.00" r="2.25" fill="#0a800a"/>
<circle cx="364.00" cy="718.60" r="2.25" fill="#0a800a"/>
<circle cx="362.50" cy="722.90" r="2.25" fill="#0a800a"/>
<circle cx="366.90" cy="723.30" r="2.25" fill="#0a800a"/>
<circle cx="370.40" cy="708.70" r="2.25" fill="#0a800a"/>
<circle cx="372.20" cy="706.90" r="2.25" fill="#0a800a"/>
<circle cx="374.50" cy="701.70" r="2.25" fill="#0a800a"/>
<circle cx="373.70" cy="717.10" r="2.25" fill="#0a800a"/>
<text x="308.10" y="678.50" font-size="11.6" text-anchor="start" font-weight="bold" font-style="normal" fill="#000">T cells &amp; TST</text>
<text x="337.70" y="812.00" font-size="10.3" text-anchor="middle" font-weight="bold" font-style="normal" fill="#000">T cells</text>
<text x="252.60" y="735.60" font-size="11.7" text-anchor="middle" font-weight="bold" font-style="normal" fill="#000" transform="rotate(-90 252.60 735.60)">Immobility time (sec)</text>
<text x="350.10" y="755.10" font-size="11.5" text-anchor="start" font-weight="bold" font-style="normal" fill="#000">r = 0.730</text>
<text x="350.10" y="768.70" font-size="11.5" font-weight="bold" fill="#000"><tspan font-style="italic">P</tspan> &lt; 0.0001</text>
<line x1="493.30" y1="682.90" x2="493.30" y2="787.60" stroke="#000" stroke-width="1.2"/>
<line x1="492.70" y1="787.00" x2="504.30" y2="787.00" stroke="#000" stroke-width="1.2"/>
<line x1="516.80" y1="787.00" x2="619.90" y2="787.00" stroke="#000" stroke-width="1.2"/>
<line x1="501.90" y1="789.80" x2="507.50" y2="784.30" stroke="#000" stroke-width="1.3"/>
<line x1="514.00" y1="789.80" x2="520.40" y2="784.30" stroke="#000" stroke-width="1.3"/>
<line x1="493.30" y1="787.00" x2="496.30" y2="787.00" stroke="#000" stroke-width="1.2"/>
<text x="491.10" y="790.20" font-size="9.3" text-anchor="end" font-weight="bold" font-style="normal" fill="#000">0</text>
<line x1="493.30" y1="761.10" x2="496.30" y2="761.10" stroke="#000" stroke-width="1.2"/>
<text x="491.10" y="764.30" font-size="9.3" text-anchor="end" font-weight="bold" font-style="normal" fill="#000">50</text>
<line x1="493.30" y1="735.20" x2="496.30" y2="735.20" stroke="#000" stroke-width="1.2"/>
<text x="491.10" y="738.40" font-size="9.3" text-anchor="end" font-weight="bold" font-style="normal" fill="#000">100</text>
<line x1="493.30" y1="709.40" x2="496.30" y2="709.40" stroke="#000" stroke-width="1.2"/>
<text x="491.10" y="712.60" font-size="9.3" text-anchor="end" font-weight="bold" font-style="normal" fill="#000">150</text>
<line x1="493.30" y1="683.50" x2="496.30" y2="683.50" stroke="#000" stroke-width="1.2"/>
<text x="491.10" y="686.70" font-size="9.3" text-anchor="end" font-weight="bold" font-style="normal" fill="#000">200</text>
<text x="493.30" y="797.60" font-size="9.5" text-anchor="middle" font-weight="bold" font-style="normal" fill="#000">0</text>
<text x="504.50" y="797.60" font-size="9.5" text-anchor="middle" font-weight="bold" font-style="normal" fill="#000">10</text>
<text x="517.50" y="797.60" font-size="9.5" text-anchor="middle" font-weight="bold" font-style="normal" fill="#000">40</text>
<line x1="538.00" y1="787.00" x2="538.00" y2="784.00" stroke="#000" stroke-width="1.2"/>
<text x="538.00" y="797.60" font-size="9.5" text-anchor="middle" font-weight="bold" font-style="normal" fill="#000">50</text>
<line x1="558.40" y1="787.00" x2="558.40" y2="784.00" stroke="#000" stroke-width="1.2"/>
<text x="558.40" y="797.60" font-size="9.5" text-anchor="middle" font-weight="bold" font-style="normal" fill="#000">60</text>
<line x1="578.90" y1="787.00" x2="578.90" y2="784.00" stroke="#000" stroke-width="1.2"/>
<text x="578.90" y="797.60" font-size="9.5" text-anchor="middle" font-weight="bold" font-style="normal" fill="#000">70</text>
<line x1="599.40" y1="787.00" x2="599.40" y2="784.00" stroke="#000" stroke-width="1.2"/>
<text x="599.40" y="797.60" font-size="9.5" text-anchor="middle" font-weight="bold" font-style="normal" fill="#000">80</text>
<line x1="619.90" y1="787.00" x2="619.90" y2="784.00" stroke="#000" stroke-width="1.2"/>
<text x="619.90" y="797.60" font-size="9.5" text-anchor="middle" font-weight="bold" font-style="normal" fill="#000">90</text>
<line x1="531.10" y1="744.30" x2="589.80" y2="710.40" stroke="#000" stroke-width="1.1"/>
<circle cx="530.60" cy="738.10" r="2.25" fill="#0a800a"/>
<circle cx="540.20" cy="740.00" r="2.25" fill="#0a800a"/>
<circle cx="543.10" cy="740.80" r="2.25" fill="#0a800a"/>
<circle cx="541.40" cy="729.10" r="2.25" fill="#0a800a"/>
<circle cx="547.50" cy="719.80" r="2.25" fill="#0a800a"/>
<circle cx="549.50" cy="727.10" r="2.25" fill="#0a800a"/>
<circle cx="545.40" cy="731.10" r="2.25" fill="#0a800a"/>
<circle cx="547.20" cy="732.60" r="2.25" fill="#0a800a"/>
<circle cx="549.00" cy="730.30" r="2.25" fill="#0a800a"/>
<circle cx="551.90" cy="732.60" r="2.25" fill="#0a800a"/>
<circle cx="552.40" cy="738.10" r="2.25" fill="#0a800a"/>
<circle cx="556.50" cy="734.40" r="2.25" fill="#0a800a"/>
<circle cx="557.10" cy="737.30" r="2.25" fill="#0a800a"/>
<circle cx="560.60" cy="737.90" r="2.25" fill="#0a800a"/>
<circle cx="547.80" cy="748.40" r="2.25" fill="#0a800a"/>
<circle cx="569.40" cy="703.40" r="2.25" fill="#0a800a"/>
<circle cx="572.30" cy="701.10" r="2.25" fill="#0a800a"/>
<circle cx="574.10" cy="717.50" r="2.25" fill="#0a800a"/>
<circle cx="579.30" cy="715.70" r="2.25" fill="#0a800a"/>
<circle cx="580.50" cy="704.00" r="2.25" fill="#0a800a"/>
<circle cx="581.70" cy="708.10" r="2.25" fill="#0a800a"/>
<circle cx="588.10" cy="703.40" r="2.25" fill="#0a800a"/>
<circle cx="589.80" cy="707.50" r="2.25" fill="#0a800a"/>
<circle cx="584.60" cy="712.80" r="2.25" fill="#0a800a"/>
<circle cx="584.60" cy="716.90" r="2.25" fill="#0a800a"/>
<circle cx="592.50" cy="711.30" r="2.25" fill="#0a800a"/>
<circle cx="591.40" cy="717.50" r="2.25" fill="#0a800a"/>
<circle cx="568.40" cy="759.20" r="2.25" fill="#0a800a"/>
<text x="523.00" y="679.80" font-size="11.6" text-anchor="start" font-weight="bold" font-style="normal" fill="#000">T cells &amp; FST</text>
<text x="558.40" y="812.30" font-size="10.3" text-anchor="middle" font-weight="bold" font-style="normal" fill="#000">T cells</text>
<text x="468.50" y="735.60" font-size="11.7" text-anchor="middle" font-weight="bold" font-style="normal" fill="#000" transform="rotate(-90 468.50 735.60)">Immobility time (sec)</text>
<text x="577.00" y="761.00" font-size="11.5" text-anchor="start" font-weight="bold" font-style="normal" fill="#000">r = 0.650</text>
<text x="577.00" y="774.60" font-size="11.5" font-weight="bold" fill="#000"><tspan font-style="italic">P</tspan> &lt; 0.0001</text>
<polygon points="177,363.2 190.8,349.2 190.8,447.8 177,433.7" fill="#999999"/>
<polygon points="91,433.7 177,433.7 190.8,447.8 77,447.8" fill="#d0d0d0"/>
<rect x="77" y="349.2" width="113.80000000000001" height="98.60000000000002" fill="none" stroke="#1f3864" stroke-width="1.4"/>
<rect x="91" y="363.2" width="86" height="70.5" fill="none" stroke="#1f3864" stroke-width="1.4"/>
<line x1="77.00" y1="349.20" x2="91.00" y2="363.20" stroke="#1f3864" stroke-width="1.3"/>
<line x1="190.80" y1="349.20" x2="177.00" y2="363.20" stroke="#1f3864" stroke-width="1.3"/>
<line x1="77.00" y1="447.80" x2="91.00" y2="433.70" stroke="#1f3864" stroke-width="1.3"/>
<line x1="190.80" y1="447.80" x2="177.00" y2="433.70" stroke="#1f3864" stroke-width="1.3"/>
<polygon points="315.5,363.2 329.8,349.2 329.8,447.6 315.5,433.6" fill="#999999"/>
<polygon points="229.9,433.6 315.5,433.6 329.8,447.6 215.7,447.6" fill="#d0d0d0"/>
<rect x="215.7" y="349.2" width="114.10000000000002" height="98.40000000000003" fill="none" stroke="#1f3864" stroke-width="1.4"/>
<rect x="229.9" y="363.2" width="85.6" height="70.40000000000003" fill="none" stroke="#1f3864" stroke-width="1.4"/>
<line x1="215.70" y1="349.20" x2="229.90" y2="363.20" stroke="#1f3864" stroke-width="1.3"/>
<line x1="329.80" y1="349.20" x2="315.50" y2="363.20" stroke="#1f3864" stroke-width="1.3"/>
<line x1="215.70" y1="447.60" x2="229.90" y2="433.60" stroke="#1f3864" stroke-width="1.3"/>
<line x1="329.80" y1="447.60" x2="315.50" y2="433.60" stroke="#1f3864" stroke-width="1.3"/>
<line x1="77.4" y1="401" x2="190.8" y2="401" stroke="#4472c4" stroke-width="1.9" stroke-dasharray="7.4 6.2"/>
<line x1="215.9" y1="401" x2="329.8" y2="401" stroke="#4472c4" stroke-width="1.9" stroke-dasharray="7.4 6.2"/>
<line x1="193.60" y1="401.00" x2="209.00" y2="401.00" stroke="#000" stroke-width="1.3"/>
<path d="M213.8 401 L206.4 396.9 L208.4 401 L206.4 405.1 Z" fill="#000"/>
<text x="135.60" y="344.20" font-size="10.3" text-anchor="middle" font-weight="bold" font-style="normal" fill="#1f77c8">Physical contact</text>
<text x="273.40" y="343.20" font-size="10.3" text-anchor="middle" font-weight="bold" font-style="normal" fill="#1f77c8">Visual stress</text>
<text x="133.70" y="418.90" font-size="9.3" text-anchor="middle" font-weight="bold" font-style="normal" fill="#000">Direct attack</text>
<g transform="translate(104.5,365.5)"><path d="M0.7 19.5 C-3 23 -4 28.5 1 29.5 C10 30 20 29 30 28.5" fill="none" stroke="#cfcfcf" stroke-width="1.1"/><path d="M0.7 19.5 C0 14 4 8 11 6.5 C16 5.2 21 5 24 5.2 C27 4.6 29 4 31 3.5 L30.5 1 C31.5 -0.2 34 0 35 2 L36 4 C39 5 43 6.8 45.7 9.3 C45 11 43 12.5 41 13 C39 14.5 37 17 35 19.5 C30 21.5 26 22.6 20.7 22.6 C12 22.6 5 21.5 0.7 19.5 Z" fill="#ececec" stroke="#c6c6c6" stroke-width="0.6"/><path d="M6 20 C14 21.5 22 20.5 28 17" fill="none" stroke="#dcdcdc" stroke-width="1.2"/><path d="M24 5.4 C27 9 28 14 26 19" fill="none" stroke="#d8d8d8" stroke-width="0.8"/><ellipse cx="32.6" cy="3.2" rx="2.6" ry="3.2" fill="#e4e4e4" stroke="#c0c0c0" stroke-width="0.5"/><circle cx="40.2" cy="7.6" r="0.8" fill="#555"/><path d="M34 15 L36.5 17.5 M37 13.5 L39.5 15.5 M15 22 L14 24.5 M19 22.5 L18.5 24.8" stroke="#c4c4c4" stroke-width="0.7"/></g>
<g transform="translate(133.8,380.4) "><path d="M0.7 11 C-2.8 13.5 -2.8 16.5 0.2 18.5" fill="none" stroke="#8a8a8a" stroke-width="0.8"/><path d="M0.7 10.5 C-0.8 6 2.2 1.2 8.2 0.6 C12.2 0.2 15.2 0.6 17.2 2.6 L20.2 5.1 C21.7 6.6 20.7 8.1 18.7 8.6 C16.2 10.6 12.2 12.1 7.2 12.6 C4.2 13.1 1.7 12.6 0.7 10.5 Z" fill="#696969" stroke="#555" stroke-width="0.4"/><path d="M8 1 C12 3 12 9 9 12.3" fill="none" stroke="#5a5a5a" stroke-width="0.6"/><ellipse cx="15.4" cy="1.4" rx="1.6" ry="2.3" fill="#585858"/><path d="M13 10.5 L14.5 13.2 M16 9.6 L17.5 12" stroke="#555" stroke-width="0.7"/></g>
<g transform="translate(250,365.5)"><path d="M0.7 19.5 C-2.5 23 -3 28 1.2 31.3 C8 33 16 29.5 22 28.5 C32 27 44 25 53.4 24.1" fill="none" stroke="#cfcfcf" stroke-width="1.1"/><path d="M0.7 19.5 C0 14 4 8 11 6.5 C16 5.2 21 5 24 5.2 C27 4.6 29 4 31 3.5 L30.5 1 C31.5 -0.2 34 0 35 2 L36 4 C39 5 43 6.8 45.7 9.3 C45 11 43 12.5 41 13 C39 14.5 37 17 35 19.5 C30 21.5 26 22.6 20.7 22.6 C12 22.6 5 21.5 0.7 19.5 Z" fill="#ececec" stroke="#c6c6c6" stroke-width="0.6"/><path d="M6 20 C14 21.5 22 20.5 28 17" fill="none" stroke="#dcdcdc" stroke-width="1.2"/><path d="M24 5.4 C27 9 28 14 26 19" fill="none" stroke="#d8d8d8" stroke-width="0.8"/><ellipse cx="32.6" cy="3.2" rx="2.6" ry="3.2" fill="#e4e4e4" stroke="#c0c0c0" stroke-width="0.5"/><circle cx="40.2" cy="7.6" r="0.8" fill="#555"/><path d="M34 15 L36.5 17.5 M37 13.5 L39.5 15.5 M15 22 L14 24.5 M19 22.5 L18.5 24.8" stroke="#c4c4c4" stroke-width="0.7"/></g>
<g transform="translate(291.1,408) scale(-1,1)"><path d="M0.7 10 C-1.5 13 0 16.5 6 17.5 C12 18.5 18 20 24 21.5" fill="none" stroke="#8a8a8a" stroke-width="0.8"/><path d="M0.7 10.5 C-0.8 6 2.2 1.2 8.2 0.6 C12.2 0.2 15.2 0.6 17.2 2.6 L20.2 5.1 C21.7 6.6 20.7 8.1 18.7 8.6 C16.2 10.6 12.2 12.1 7.2 12.6 C4.2 13.1 1.7 12.6 0.7 10.5 Z" fill="#696969" stroke="#555" stroke-width="0.4"/><path d="M8 1 C12 3 12 9 9 12.3" fill="none" stroke="#5a5a5a" stroke-width="0.6"/><ellipse cx="15.4" cy="1.4" rx="1.6" ry="2.3" fill="#585858"/><path d="M13 10.5 L14.5 13.2 M16 9.6 L17.5 12" stroke="#555" stroke-width="0.7"/></g>
<rect x="72" y="457.4" width="272" height="4.6" fill="#8eb4e3"/>
<rect x="343.8" y="457.4" width="147.4" height="4.6" fill="#f79b08"/>
<line x1="72.10" y1="455.20" x2="72.10" y2="464.00" stroke="#000" stroke-width="1.6"/>
<line x1="343.80" y1="455.20" x2="343.80" y2="464.00" stroke="#000" stroke-width="1.6"/>
<line x1="491.20" y1="455.20" x2="491.20" y2="464.00" stroke="#000" stroke-width="1.6"/>
<text x="3.00" y="477.40" font-size="11.6" text-anchor="start" font-weight="bold" font-style="normal" fill="#000">Timeline (d)</text>
<text x="72.20" y="478.30" font-size="11.6" text-anchor="middle" font-weight="bold" font-style="normal" fill="#000">0</text>
<text x="202.60" y="474.10" font-size="11.7" text-anchor="middle" font-weight="bold" font-style="normal" fill="#1a70c2">CSDS</text>
<text x="343.80" y="477.40" font-size="10.8" text-anchor="middle" font-weight="bold" font-style="normal" fill="#000">10</text>
<line x1="343.80" y1="438.40" x2="343.80" y2="453.40" stroke="#c00000" stroke-width="1.3"/>
<path d="M340.2 448.6 L343.8 453.8 L347.4 448.6" fill="none" stroke="#c00000" stroke-width="1.3"/>
<text x="380.90" y="477.40" font-size="10.8" text-anchor="middle" font-weight="bold" font-style="normal" fill="#000">11</text>
<line x1="380.90" y1="438.40" x2="380.90" y2="453.40" stroke="#c00000" stroke-width="1.3"/>
<path d="M377.3 448.6 L380.9 453.8 L384.5 448.6" fill="none" stroke="#c00000" stroke-width="1.3"/>
<text x="417.40" y="477.40" font-size="10.8" text-anchor="middle" font-weight="bold" font-style="normal" fill="#000">12</text>
<line x1="417.40" y1="438.40" x2="417.40" y2="453.40" stroke="#c00000" stroke-width="1.3"/>
<path d="M413.8 448.6 L417.4 453.8 L421.0 448.6" fill="none" stroke="#c00000" stroke-width="1.3"/>
<text x="454.20" y="477.40" font-size="10.8" text-anchor="middle" font-weight="bold" font-style="normal" fill="#000">13</text>
<line x1="454.20" y1="438.40" x2="454.20" y2="453.40" stroke="#c00000" stroke-width="1.3"/>
<path d="M450.6 448.6 L454.2 453.8 L457.8 448.6" fill="none" stroke="#c00000" stroke-width="1.3"/>
<text x="491.20" y="477.40" font-size="10.8" text-anchor="middle" font-weight="bold" font-style="normal" fill="#000">14</text>
<line x1="491.20" y1="438.40" x2="491.20" y2="453.40" stroke="#c00000" stroke-width="1.3"/>
<path d="M487.6 448.6 L491.2 453.8 L494.8 448.6" fill="none" stroke="#c00000" stroke-width="1.3"/>
<path d="M343.8 434.2 V427.8 H414.9 Q417.4 427.8 417.4 421.4 Q417.4 427.8 419.9 427.8 H491.2 V434.2" fill="none" stroke="#70ad47" stroke-width="1.3"/>
<text x="417.80" y="414.50" font-size="11.55" text-anchor="middle" font-weight="bold" font-style="normal" fill="#70ad47">Behavioral testing</text>
<rect x="353" y="339.6" width="33.9" height="44.7" fill="#fff" stroke="#000" stroke-width="1.4"/>
<rect x="359.4" y="339.6" width="20" height="17" fill="#fff" stroke="#000" stroke-width="1.4"/>
<g transform="translate(362,342) scale(0.33)" opacity="0.6"><path d="M1.5 21 C-1 12 6 3 19 2 C25 1.5 29 2 32 3 L33 0.8 C35 0 36.5 1.5 36 3.5 L41 6.5 C44 7.5 44.5 9 42.5 10 C40 11.5 37 12 35 12.5 L34 15.5 C31.5 18 28 19.5 25 20.5 C18 23 8 23.5 1.5 21 Z" fill="#e4e4e4" stroke="#cfcfcf" stroke-width="1.2"/><path d="M1.5 21 C-2 25 0 31 10 30 C22 29 36 27 50 24" fill="none" stroke="#d8d8d8" stroke-width="2"/></g>
<path d="M363.5 374.8 C363.5 371.5 366.5 369.9 369 369.9 C371.5 369.9 373 371.5 373.3 374.2 C370 375.4 366.5 375.6 363.5 374.8 Z" fill="#707070"/>
<path d="M373 374.2 C375 374.8 377.5 374.2 379.6 373.8" fill="none" stroke="#999" stroke-width="0.5"/>
<path d="M390 381.3 L399.1 358.5 H419.2 M399.1 342.4 V358.5" fill="none" stroke="#000" stroke-width="0.9" stroke-dasharray="2.2 1.6"/>
<path d="M390 365.2 H409.8 V381.3 H390 Z M390 365.2 L399.1 342.4 H419.2 L409.8 365.2 M419.2 342.4 V358.5 L409.8 381.3" fill="none" stroke="#000" stroke-width="1.2" stroke-linejoin="round"/>
<path d="M404.6 355.5 L406.2 340.2 M407.3 355.5 L408.4 340.2 M408.9 355.5 L410.5 340.2 M411.6 355.5 L412.6 340.2" stroke="#000" stroke-width="0.8" fill="none"/>
<path d="M406.2 340.2 Q407.3 338.4 408.4 340.2 M410.5 340.2 Q411.6 338.4 412.6 340.2" stroke="#000" stroke-width="0.8" fill="none"/>
<ellipse cx="401.2" cy="367.4" rx="1.9" ry="5.2" fill="#808080" transform="rotate(15 401.2 367.4)"/>
<path d="M400 372 Q399 377 398.5 380" fill="none" stroke="#aaa" stroke-width="0.5"/>
<path d="M422.3 347.3 V376.7 A14.1 7.1 0 0 0 450.5 376.7 V347.3" fill="#fff" stroke="#000" stroke-width="1.3"/>
<ellipse cx="436.4" cy="347.3" rx="14.1" ry="7.1" fill="#fff" stroke="#000" stroke-width="1.3"/>
<line x1="422.30" y1="347.10" x2="450.50" y2="347.10" stroke="#000" stroke-width="1.2"/>
<path d="M424.6 370.8 Q436.4 361.5 448.7 370.8" fill="none" stroke="#000" stroke-width="1.2" stroke-dasharray="2.4 1.8"/>
<line x1="436.40" y1="347.30" x2="436.40" y2="356.00" stroke="#aaa" stroke-width="0.8"/>
<ellipse cx="434.9" cy="364" rx="2.1" ry="7.2" fill="#777"/>
<path d="M434.9 371 L435.5 374" stroke="#999" stroke-width="0.6"/>
<path d="M453.3 357.3 V376.5 A14.65 7 0 0 0 482.6 376.5 V357.3 Z" fill="#b4c7e7"/>
<path d="M453.3 346.8 V376.5 A14.65 7 0 0 0 482.6 376.5 V346.8" fill="none" stroke="#000" stroke-width="1.3"/>
<ellipse cx="467.95" cy="346.8" rx="14.65" ry="7" fill="#fff" stroke="#000" stroke-width="1.3"/>
<path d="M455.8 370.3 Q468 361 480.2 370.3" fill="none" stroke="#000" stroke-width="1.2" stroke-dasharray="2.4 1.8"/>
<path d="M463.8 359.5 C464 356.5 467 355.2 469.5 355.8 C471.5 356.3 472.5 358 472 359.8 C469 361 466 360.8 463.8 359.5 Z" fill="#707070"/>
<path d="M472 359.8 C474.5 361 476.5 361.8 478.5 362" fill="none" stroke="#888" stroke-width="0.5"/>
<text x="369.70" y="394.60" font-size="8.8" text-anchor="middle" font-weight="bold" font-style="normal" fill="#000">SIT</text>
<text x="402.70" y="394.60" font-size="8.8" text-anchor="middle" font-weight="bold" font-style="normal" fill="#000">SPT</text>
<text x="436.20" y="394.60" font-size="8.8" text-anchor="middle" font-weight="bold" font-style="normal" fill="#000">TST</text>
<text x="467.90" y="394.60" font-size="8.8" text-anchor="middle" font-weight="bold" font-style="normal" fill="#000">FST</text>
</svg>
</body></html>
